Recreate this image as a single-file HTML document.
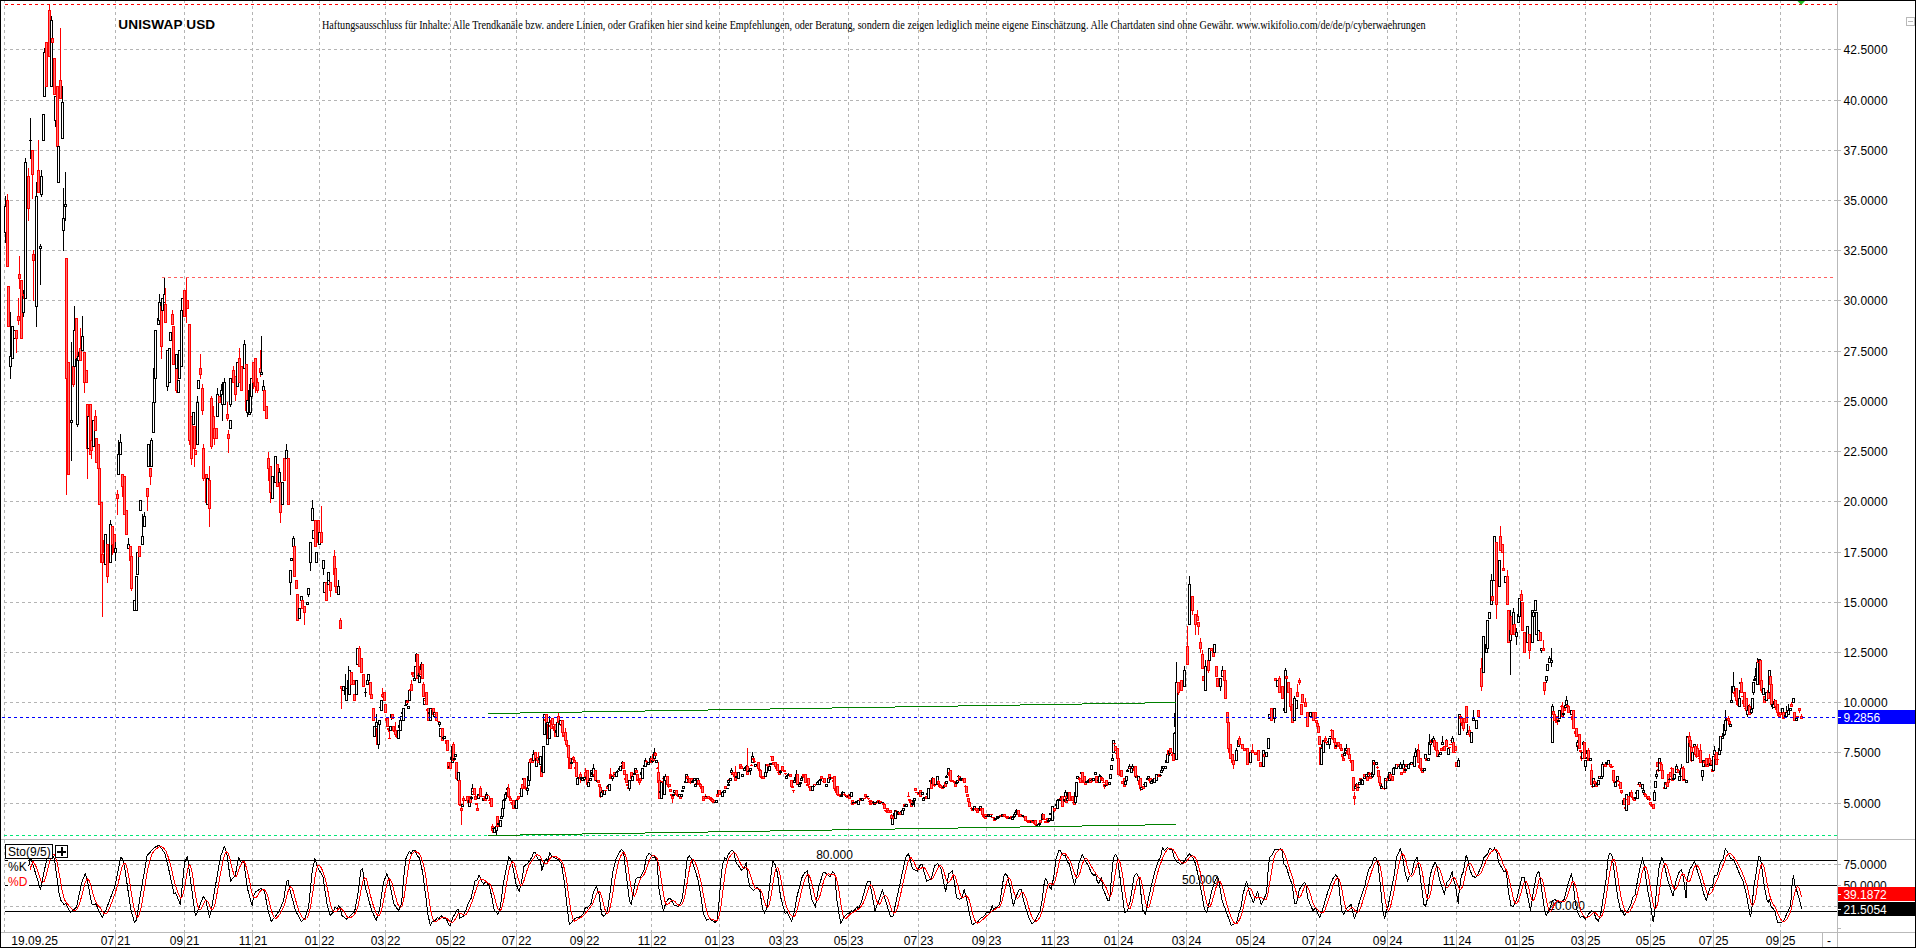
<!DOCTYPE html><html><head><meta charset="utf-8"><title>UNISWAP USD</title>
<style>html,body{margin:0;padding:0;background:#fff;}body{width:1916px;height:948px;overflow:hidden;position:relative;font-family:"Liberation Sans",sans-serif;}svg{position:absolute;left:0;top:0;}text{font-family:"Liberation Sans",sans-serif;font-size:12px;}.ser{font-family:"Liberation Serif",serif;}.u{fill:#fff;stroke:#000}.d{fill:#ff7070;stroke:#f00}</style></head><body>
<svg width="1916" height="948" viewBox="0 0 1916 948">
<rect x="0" y="0" width="1916" height="948" fill="#fff"/>
<g shape-rendering="crispEdges" fill="none">
<path d="M4.5 0V839" stroke="#b4b4b4" stroke-dasharray="3 3"/>
<path d="M4.5 840V932" stroke="#b4b4b4" stroke-dasharray="3 3" stroke-dashoffset="0"/>
<path d="M115.5 0V839" stroke="#b4b4b4" stroke-dasharray="3 3"/>
<path d="M115.5 840V932" stroke="#b4b4b4" stroke-dasharray="3 3" stroke-dashoffset="0"/>
<path d="M184.5 0V839" stroke="#b4b4b4" stroke-dasharray="3 3"/>
<path d="M184.5 840V932" stroke="#b4b4b4" stroke-dasharray="3 3" stroke-dashoffset="0"/>
<path d="M252.5 0V839" stroke="#b4b4b4" stroke-dasharray="3 3"/>
<path d="M252.5 840V932" stroke="#b4b4b4" stroke-dasharray="3 3" stroke-dashoffset="0"/>
<path d="M319.5 0V839" stroke="#b4b4b4" stroke-dasharray="3 3"/>
<path d="M319.5 840V932" stroke="#b4b4b4" stroke-dasharray="3 3" stroke-dashoffset="0"/>
<path d="M385.5 0V839" stroke="#b4b4b4" stroke-dasharray="3 3"/>
<path d="M385.5 840V932" stroke="#b4b4b4" stroke-dasharray="3 3" stroke-dashoffset="0"/>
<path d="M450.5 0V839" stroke="#b4b4b4" stroke-dasharray="3 3"/>
<path d="M450.5 840V932" stroke="#b4b4b4" stroke-dasharray="3 3" stroke-dashoffset="0"/>
<path d="M516.5 0V839" stroke="#b4b4b4" stroke-dasharray="3 3"/>
<path d="M516.5 840V932" stroke="#b4b4b4" stroke-dasharray="3 3" stroke-dashoffset="0"/>
<path d="M584.5 0V839" stroke="#b4b4b4" stroke-dasharray="3 3"/>
<path d="M584.5 840V932" stroke="#b4b4b4" stroke-dasharray="3 3" stroke-dashoffset="0"/>
<path d="M651.5 0V839" stroke="#b4b4b4" stroke-dasharray="3 3"/>
<path d="M651.5 840V932" stroke="#b4b4b4" stroke-dasharray="3 3" stroke-dashoffset="0"/>
<path d="M719.5 0V839" stroke="#b4b4b4" stroke-dasharray="3 3"/>
<path d="M719.5 840V932" stroke="#b4b4b4" stroke-dasharray="3 3" stroke-dashoffset="0"/>
<path d="M783.5 0V839" stroke="#b4b4b4" stroke-dasharray="3 3"/>
<path d="M783.5 840V932" stroke="#b4b4b4" stroke-dasharray="3 3" stroke-dashoffset="0"/>
<path d="M848.5 0V839" stroke="#b4b4b4" stroke-dasharray="3 3"/>
<path d="M848.5 840V932" stroke="#b4b4b4" stroke-dasharray="3 3" stroke-dashoffset="0"/>
<path d="M918.5 0V839" stroke="#b4b4b4" stroke-dasharray="3 3"/>
<path d="M918.5 840V932" stroke="#b4b4b4" stroke-dasharray="3 3" stroke-dashoffset="0"/>
<path d="M986.5 0V839" stroke="#b4b4b4" stroke-dasharray="3 3"/>
<path d="M986.5 840V932" stroke="#b4b4b4" stroke-dasharray="3 3" stroke-dashoffset="0"/>
<path d="M1054.5 0V839" stroke="#b4b4b4" stroke-dasharray="3 3"/>
<path d="M1054.5 840V932" stroke="#b4b4b4" stroke-dasharray="3 3" stroke-dashoffset="0"/>
<path d="M1118.5 0V839" stroke="#b4b4b4" stroke-dasharray="3 3"/>
<path d="M1118.5 840V932" stroke="#b4b4b4" stroke-dasharray="3 3" stroke-dashoffset="0"/>
<path d="M1186.5 0V839" stroke="#b4b4b4" stroke-dasharray="3 3"/>
<path d="M1186.5 840V932" stroke="#b4b4b4" stroke-dasharray="3 3" stroke-dashoffset="0"/>
<path d="M1250.5 0V839" stroke="#b4b4b4" stroke-dasharray="3 3"/>
<path d="M1250.5 840V932" stroke="#b4b4b4" stroke-dasharray="3 3" stroke-dashoffset="0"/>
<path d="M1316.5 0V839" stroke="#b4b4b4" stroke-dasharray="3 3"/>
<path d="M1316.5 840V932" stroke="#b4b4b4" stroke-dasharray="3 3" stroke-dashoffset="0"/>
<path d="M1387.5 0V839" stroke="#b4b4b4" stroke-dasharray="3 3"/>
<path d="M1387.5 840V932" stroke="#b4b4b4" stroke-dasharray="3 3" stroke-dashoffset="0"/>
<path d="M1456.5 0V839" stroke="#b4b4b4" stroke-dasharray="3 3"/>
<path d="M1456.5 840V932" stroke="#b4b4b4" stroke-dasharray="3 3" stroke-dashoffset="0"/>
<path d="M1519.5 0V839" stroke="#b4b4b4" stroke-dasharray="3 3"/>
<path d="M1519.5 840V932" stroke="#b4b4b4" stroke-dasharray="3 3" stroke-dashoffset="0"/>
<path d="M1585.5 0V839" stroke="#b4b4b4" stroke-dasharray="3 3"/>
<path d="M1585.5 840V932" stroke="#b4b4b4" stroke-dasharray="3 3" stroke-dashoffset="0"/>
<path d="M1650.5 0V839" stroke="#b4b4b4" stroke-dasharray="3 3"/>
<path d="M1650.5 840V932" stroke="#b4b4b4" stroke-dasharray="3 3" stroke-dashoffset="0"/>
<path d="M1713.5 0V839" stroke="#b4b4b4" stroke-dasharray="3 3"/>
<path d="M1713.5 840V932" stroke="#b4b4b4" stroke-dasharray="3 3" stroke-dashoffset="0"/>
<path d="M1780.5 0V839" stroke="#b4b4b4" stroke-dasharray="3 3"/>
<path d="M1780.5 840V932" stroke="#b4b4b4" stroke-dasharray="3 3" stroke-dashoffset="0"/>
<path d="M4 49.5H1837" stroke="#b4b4b4" stroke-dasharray="3 3"/>
<path d="M1837 49.5H1841" stroke="#b9b9b9"/>
<path d="M4 100.5H1837" stroke="#b4b4b4" stroke-dasharray="3 3"/>
<path d="M1837 100.5H1841" stroke="#b9b9b9"/>
<path d="M4 150.5H1837" stroke="#b4b4b4" stroke-dasharray="3 3"/>
<path d="M1837 150.5H1841" stroke="#b9b9b9"/>
<path d="M4 200.5H1837" stroke="#b4b4b4" stroke-dasharray="3 3"/>
<path d="M1837 200.5H1841" stroke="#b9b9b9"/>
<path d="M4 250.5H1837" stroke="#b4b4b4" stroke-dasharray="3 3"/>
<path d="M1837 250.5H1841" stroke="#b9b9b9"/>
<path d="M4 300.5H1837" stroke="#b4b4b4" stroke-dasharray="3 3"/>
<path d="M1837 300.5H1841" stroke="#b9b9b9"/>
<path d="M4 351.5H1837" stroke="#b4b4b4" stroke-dasharray="3 3"/>
<path d="M1837 351.5H1841" stroke="#b9b9b9"/>
<path d="M4 401.5H1837" stroke="#b4b4b4" stroke-dasharray="3 3"/>
<path d="M1837 401.5H1841" stroke="#b9b9b9"/>
<path d="M4 451.5H1837" stroke="#b4b4b4" stroke-dasharray="3 3"/>
<path d="M1837 451.5H1841" stroke="#b9b9b9"/>
<path d="M4 501.5H1837" stroke="#b4b4b4" stroke-dasharray="3 3"/>
<path d="M1837 501.5H1841" stroke="#b9b9b9"/>
<path d="M4 552.5H1837" stroke="#b4b4b4" stroke-dasharray="3 3"/>
<path d="M1837 552.5H1841" stroke="#b9b9b9"/>
<path d="M4 602.5H1837" stroke="#b4b4b4" stroke-dasharray="3 3"/>
<path d="M1837 602.5H1841" stroke="#b9b9b9"/>
<path d="M4 652.5H1837" stroke="#b4b4b4" stroke-dasharray="3 3"/>
<path d="M1837 652.5H1841" stroke="#b9b9b9"/>
<path d="M4 702.5H1837" stroke="#b4b4b4" stroke-dasharray="3 3"/>
<path d="M1837 702.5H1841" stroke="#b9b9b9"/>
<path d="M4 752.5H1837" stroke="#b4b4b4" stroke-dasharray="3 3"/>
<path d="M1837 752.5H1841" stroke="#b9b9b9"/>
<path d="M4 803.5H1837" stroke="#b4b4b4" stroke-dasharray="3 3"/>
<path d="M1837 803.5H1841" stroke="#b9b9b9"/>
<path d="M4 864.5H1837" stroke="#b4b4b4" stroke-dasharray="3 3"/>
<path d="M1837 864.5H1841" stroke="#b9b9b9"/>
<path d="M4 906.5H1837" stroke="#b4b4b4" stroke-dasharray="3 3"/>
<path d="M1837 906.5H1841" stroke="#b9b9b9"/>
<path d="M1837 885.5H1841M1837 928.5H1841" stroke="#b9b9b9"/>
<path d="M5 4.5H1837" stroke="#ff0000" stroke-dasharray="3 3"/>
<path d="M162 277.5H1833" stroke="#ff6060" stroke-dasharray="3 3"/>
<path d="M4 835.5H1837" stroke="#00e676" stroke-dasharray="3 3"/>
</g>
<g shape-rendering="crispEdges" class="cd">
<path class="u" d="M5.5 196V206M5.5 233V243M4.5 206.5H6.5V232.5H4.5Z"/>
<path class="d" d="M7.5 194V200M6.5 200.5H8.5V266.5H6.5Z"/>
<path class="d" d="M7.5 286.5H9.5V326.5H7.5Z"/>
<path class="u" d="M10.5 312V356M10.5 367V379M9.5 356.5H11.5V366.5H9.5Z"/>
<path class="u" d="M11.5 326.5H13.5V358.5H11.5Z"/>
<path class="u" d="M13.5 330.5H15.5V338.5H13.5Z"/>
<path class="d" d="M16.5 339V353M15.5 330.5H17.5V338.5H15.5Z"/>
<path class="d" d="M18.5 298V316M18.5 321V325M17.5 316.5H19.5V320.5H17.5Z"/>
<path class="d" d="M19.5 256V274M19.5 279V289M18.5 274.5H20.5V278.5H18.5Z"/>
<path class="d" d="M20.5 280.5H22.5V338.5H20.5Z"/>
<path class="u" d="M23.5 290V296M23.5 313V317M22.5 296.5H24.5V312.5H22.5Z"/>
<path class="d" d="M23.5 294.5H25.5V298.5H23.5Z"/>
<path class="u" d="M25.5 158V162M24.5 162.5H26.5V298.5H24.5Z"/>
<path class="d" d="M28.5 168V176M28.5 209V221M27.5 176.5H29.5V208.5H27.5Z"/>
<path class="u" d="M30.5 118V140M30.5 141V159M29 140.5H32"/>
<path class="d" d="M32.5 175V199M31.5 150.5H33.5V174.5H31.5Z"/>
<path class="d" d="M33.5 250V254M33.5 261V301M32.5 254.5H34.5V260.5H32.5Z"/>
<path class="u" d="M36.5 182V196M36.5 307V327M35.5 196.5H37.5V306.5H35.5Z"/>
<path class="d" d="M38.5 140V170M37.5 170.5H39.5V192.5H37.5Z"/>
<path class="u" d="M40.5 244V246M40.5 249V285M39.5 246.5H41.5V248.5H39.5Z"/>
<path class="u" d="M41.5 170V176M41.5 195V197M40.5 176.5H42.5V194.5H40.5Z"/>
<path class="u" d="M42.5 114.5H44.5V140.5H42.5Z"/>
<path class="u" d="M44.5 48V52M43.5 52.5H45.5V96.5H43.5Z"/>
<path class="d" d="M45.5 42.5H47.5V86.5H45.5Z"/>
<path class="d" d="M49.5 4V10M48.5 10.5H50.5V56.5H48.5Z"/>
<path class="u" d="M51.5 16V20M50.5 20.5H52.5V86.5H50.5Z"/>
<path class="d" d="M51.5 38.5H53.5V42.5H51.5Z"/>
<path class="d" d="M53.5 58.5H55.5V94.5H53.5Z"/>
<path class="u" d="M55.5 121V127M54.5 96.5H56.5V120.5H54.5Z"/>
<path class="d" d="M56.5 86.5H58.5V146.5H56.5Z"/>
<path class="u" d="M57.5 146.5H59.5V182.5H57.5Z"/>
<path class="d" d="M60.5 28V80M59.5 80.5H61.5V98.5H59.5Z"/>
<path class="u" d="M62.5 86V102M61.5 102.5H63.5V138.5H61.5Z"/>
<path class="u" d="M63.5 188V218M63.5 231V251M62.5 218.5H64.5V230.5H62.5Z"/>
<path class="u" d="M65.5 172V204M65.5 207V221M64.5 204.5H66.5V206.5H64.5Z"/>
<path class="d" d="M66.5 379V495M65.5 258.5H67.5V378.5H65.5Z"/>
<path class="d" d="M67.5 362.5H69.5V474.5H67.5Z"/>
<path class="u" d="M71.5 342V420M71.5 423V461M70.5 420.5H72.5V422.5H70.5Z"/>
<path class="d" d="M73.5 385V387M72.5 366.5H74.5V384.5H72.5Z"/>
<path class="u" d="M74.5 306V330M73.5 330.5H75.5V366.5H73.5Z"/>
<path class="d" d="M75.5 318.5H77.5V358.5H75.5Z"/>
<path class="u" d="M77.5 425V427M76.5 358.5H78.5V424.5H76.5Z"/>
<path class="u" d="M78.5 352V356M78.5 361V377M77.5 356.5H79.5V360.5H77.5Z"/>
<path class="d" d="M80.5 328V348M79.5 348.5H81.5V360.5H79.5Z"/>
<path class="u" d="M82.5 316V336M81.5 336.5H83.5V350.5H81.5Z"/>
<path class="d" d="M84.5 383V393M83.5 352.5H85.5V382.5H83.5Z"/>
<path class="d" d="M85.5 370.5H87.5V382.5H85.5Z"/>
<path class="d" d="M87.5 449V479M86.5 404.5H88.5V448.5H86.5Z"/>
<path class="u" d="M87.5 416.5H89.5V448.5H87.5Z"/>
<path class="d" d="M89.5 404.5H91.5V454.5H89.5Z"/>
<path class="d" d="M91.5 451V459M90.5 440.5H92.5V450.5H90.5Z"/>
<path class="u" d="M92.5 420.5H94.5V446.5H92.5Z"/>
<path class="d" d="M95.5 410V416M94.5 416.5H96.5V430.5H94.5Z"/>
<path class="d" d="M95.5 438.5H97.5V462.5H95.5Z"/>
<path class="d" d="M97.5 444.5H99.5V468.5H97.5Z"/>
<path class="d" d="M98.5 468.5H100.5V504.5H98.5Z"/>
<path class="d" d="M100.5 502.5H102.5V562.5H100.5Z"/>
<path class="d" d="M102.5 563V617M101.5 554.5H103.5V562.5H101.5Z"/>
<path class="d" d="M103.5 540.5H105.5V552.5H103.5Z"/>
<path class="u" d="M104.5 534.5H106.5V564.5H104.5Z"/>
<path class="d" d="M107.5 577V583M106.5 544.5H108.5V576.5H106.5Z"/>
<path class="u" d="M110.5 520V524M109.5 524.5H111.5V562.5H109.5Z"/>
<path class="d" d="M112.5 545V555M111.5 526.5H113.5V544.5H111.5Z"/>
<path class="d" d="M113.5 534.5H115.5V552.5H113.5Z"/>
<path class="u" d="M115.5 542V548M115.5 553V561M114.5 548.5H116.5V552.5H114.5Z"/>
<path class="d" d="M117.5 490V494M117.5 499V515M116.5 494.5H118.5V498.5H116.5Z"/>
<path class="u" d="M118.5 440V454M117.5 454.5H119.5V474.5H117.5Z"/>
<path class="u" d="M120.5 434V442M119.5 442.5H121.5V454.5H119.5Z"/>
<path class="d" d="M122.5 487V497M121.5 474.5H123.5V486.5H121.5Z"/>
<path class="d" d="M123.5 476.5H125.5V514.5H123.5Z"/>
<path class="d" d="M125.5 510.5H127.5V534.5H125.5Z"/>
<path class="u" d="M128.5 538V544M127.5 544.5H129.5V548.5H127.5Z"/>
<path class="d" d="M129.5 546.5H131.5V560.5H129.5Z"/>
<path class="d" d="M131.5 589V591M130.5 556.5H132.5V588.5H130.5Z"/>
<path class="u" d="M133.5 600.5H135.5V610.5H133.5Z"/>
<path class="u" d="M135.5 576.5H137.5V610.5H135.5Z"/>
<path class="u" d="M136.5 552.5H138.5V574.5H136.5Z"/>
<path class="d" d="M138.5 546.5H140.5V556.5H138.5Z"/>
<path class="u" d="M139.5 500.5H141.5V510.5H139.5Z"/>
<path class="u" d="M142.5 514V536M141.5 536.5H143.5V544.5H141.5Z"/>
<path class="u" d="M144.5 512V516M143.5 516.5H145.5V526.5H143.5Z"/>
<path class="d" d="M147.5 497V511M146.5 488.5H148.5V496.5H146.5Z"/>
<path class="u" d="M147.5 444.5H149.5V466.5H147.5Z"/>
<path class="d" d="M150.5 477V485M149.5 468.5H151.5V476.5H149.5Z"/>
<path class="u" d="M151.5 438V440M150.5 440.5H152.5V466.5H150.5Z"/>
<path class="u" d="M152.5 402.5H154.5V432.5H152.5Z"/>
<path class="u" d="M153.5 368.5H155.5V402.5H153.5Z"/>
<path class="u" d="M154.5 330.5H156.5V378.5H154.5Z"/>
<path class="u" d="M157.5 318.5H159.5V324.5H157.5Z"/>
<path class="u" d="M159.5 294V302M158.5 302.5H160.5V320.5H158.5Z"/>
<path class="d" d="M161.5 347V359M160.5 306.5H162.5V346.5H160.5Z"/>
<path class="u" d="M161.5 298.5H163.5V310.5H161.5Z"/>
<path class="u" d="M164.5 278V294M163.5 294.5H165.5V302.5H163.5Z"/>
<path class="d" d="M165.5 288V304M164.5 304.5H166.5V322.5H164.5Z"/>
<path class="u" d="M167.5 387V391M166.5 350.5H168.5V386.5H166.5Z"/>
<path class="u" d="M168.5 348.5H170.5V382.5H168.5Z"/>
<path class="u" d="M169.5 332.5H171.5V340.5H169.5Z"/>
<path class="d" d="M172.5 310V314M171.5 314.5H173.5V324.5H171.5Z"/>
<path class="d" d="M172.5 326.5H174.5V364.5H172.5Z"/>
<path class="d" d="M176.5 391V393M175.5 368.5H177.5V390.5H175.5Z"/>
<path class="u" d="M175.5 354.5H177.5V368.5H175.5Z"/>
<path class="u" d="M177.5 380.5H179.5V392.5H177.5Z"/>
<path class="u" d="M178.5 350.5H180.5V378.5H178.5Z"/>
<path class="u" d="M180.5 310.5H182.5V366.5H180.5Z"/>
<path class="u" d="M181.5 298.5H183.5V310.5H181.5Z"/>
<path class="d" d="M183.5 290.5H185.5V316.5H183.5Z"/>
<path class="d" d="M186.5 278V302M186.5 309V323M185.5 302.5H187.5V308.5H185.5Z"/>
<path class="d" d="M186.5 300.5H188.5V308.5H186.5Z"/>
<path class="d" d="M189.5 441V445M188.5 324.5H190.5V440.5H188.5Z"/>
<path class="d" d="M191.5 459V465M190.5 416.5H192.5V458.5H190.5Z"/>
<path class="u" d="M192.5 412.5H194.5V424.5H192.5Z"/>
<path class="d" d="M194.5 449V467M193.5 426.5H195.5V448.5H193.5Z"/>
<path class="d" d="M194.5 450.5H196.5V454.5H194.5Z"/>
<path class="u" d="M197.5 396V402M196.5 402.5H198.5V444.5H196.5Z"/>
<path class="u" d="M197.5 380.5H199.5V388.5H197.5Z"/>
<path class="d" d="M200.5 354V368M200.5 375V379M199.5 368.5H201.5V374.5H199.5Z"/>
<path class="d" d="M202.5 384V388M202.5 411V415M201.5 388.5H203.5V410.5H201.5Z"/>
<path class="d" d="M203.5 444V448M203.5 479V481M202.5 448.5H204.5V478.5H202.5Z"/>
<path class="d" d="M205.5 474.5H207.5V502.5H205.5Z"/>
<path class="u" d="M206.5 478.5H208.5V504.5H206.5Z"/>
<path class="d" d="M209.5 466V480M209.5 509V527M208.5 480.5H210.5V508.5H208.5Z"/>
<path class="d" d="M211.5 396V398M211.5 447V449M210.5 398.5H212.5V446.5H210.5Z"/>
<path class="d" d="M213.5 406V416M212.5 416.5H214.5V438.5H212.5Z"/>
<path class="d" d="M214.5 424V428M214.5 439V445M213.5 428.5H215.5V438.5H213.5Z"/>
<path class="d" d="M215.5 428.5H217.5V438.5H215.5Z"/>
<path class="u" d="M217.5 388V394M216.5 394.5H218.5V416.5H216.5Z"/>
<path class="d" d="M218.5 396.5H220.5V402.5H218.5Z"/>
<path class="u" d="M221.5 384V390M220.5 390.5H222.5V396.5H220.5Z"/>
<path class="u" d="M222.5 382V394M222.5 405V421M221.5 394.5H223.5V404.5H221.5Z"/>
<path class="u" d="M224.5 378V382M223.5 382.5H225.5V404.5H223.5Z"/>
<path class="d" d="M227.5 402V414M227.5 419V421M226.5 414.5H228.5V418.5H226.5Z"/>
<path class="d" d="M228.5 430V434M228.5 439V453M227.5 434.5H229.5V438.5H227.5Z"/>
<path class="u" d="M229.5 420.5H231.5V428.5H229.5Z"/>
<path class="u" d="M230.5 405V407M229.5 378.5H231.5V404.5H229.5Z"/>
<path class="d" d="M233.5 366V370M232.5 370.5H234.5V382.5H232.5Z"/>
<path class="d" d="M235.5 395V401M234.5 376.5H236.5V394.5H234.5Z"/>
<path class="u" d="M236.5 362.5H238.5V386.5H236.5Z"/>
<path class="d" d="M239.5 348V358M238.5 358.5H240.5V382.5H238.5Z"/>
<path class="d" d="M240.5 366.5H242.5V390.5H240.5Z"/>
<path class="u" d="M244.5 340V344M243.5 344.5H245.5V368.5H243.5Z"/>
<path class="d" d="M245.5 364.5H247.5V410.5H245.5Z"/>
<path class="u" d="M247.5 413V417M246.5 400.5H248.5V412.5H246.5Z"/>
<path class="u" d="M248.5 390.5H250.5V414.5H248.5Z"/>
<path class="u" d="M249.5 384.5H251.5V412.5H249.5Z"/>
<path class="u" d="M250.5 378.5H252.5V396.5H250.5Z"/>
<path class="d" d="M253.5 383V389M252.5 362.5H254.5V382.5H252.5Z"/>
<path class="d" d="M255.5 387V393M254.5 358.5H256.5V386.5H254.5Z"/>
<path class="d" d="M257.5 378V382M257.5 391V393M256.5 382.5H258.5V390.5H256.5Z"/>
<path class="d" d="M260.5 350V368M260.5 373V377M259.5 368.5H261.5V372.5H259.5Z"/>
<path class="u" d="M261.5 336V372M260.5 372.5H262.5V374.5H260.5Z"/>
<path class="u" d="M263.5 380V386M262.5 386.5H264.5V390.5H262.5Z"/>
<path class="d" d="M263.5 390.5H265.5V410.5H263.5Z"/>
<path class="d" d="M265.5 406.5H267.5V418.5H265.5Z"/>
<path class="d" d="M268.5 452V458M268.5 469V481M267.5 458.5H269.5V468.5H267.5Z"/>
<path class="d" d="M270.5 493V503M269.5 466.5H271.5V492.5H269.5Z"/>
<path class="u" d="M271.5 476.5H273.5V498.5H271.5Z"/>
<path class="u" d="M274.5 456.5H276.5V482.5H274.5Z"/>
<path class="d" d="M276.5 464.5H278.5V486.5H276.5Z"/>
<path class="u" d="M279.5 468V472M278.5 472.5H280.5V482.5H278.5Z"/>
<path class="d" d="M280.5 513V523M279.5 482.5H281.5V512.5H279.5Z"/>
<path class="u" d="M281.5 482.5H283.5V504.5H281.5Z"/>
<path class="d" d="M283.5 458.5H285.5V480.5H283.5Z"/>
<path class="u" d="M286.5 444V450M285.5 450.5H287.5V458.5H285.5Z"/>
<path class="d" d="M287.5 458.5H289.5V504.5H287.5Z"/>
<path class="u" d="M290.5 583V595M289.5 570.5H291.5V582.5H289.5Z"/>
<path class="u" d="M290.5 558.5H292.5V560.5H290.5Z"/>
<path class="u" d="M293.5 536V538M292.5 538.5H294.5V546.5H292.5Z"/>
<path class="d" d="M293.5 546.5H295.5V576.5H293.5Z"/>
<path class="d" d="M295.5 580.5H297.5V588.5H295.5Z"/>
<path class="d" d="M296.5 594.5H298.5V620.5H296.5Z"/>
<path class="u" d="M298.5 608.5H300.5V618.5H298.5Z"/>
<path class="u" d="M300.5 596.5H302.5V600.5H300.5Z"/>
<path class="d" d="M301.5 600.5H303.5V608.5H301.5Z"/>
<path class="d" d="M304.5 613V625M303.5 606.5H305.5V612.5H303.5Z"/>
<path class="u" d="M306.5 602.5H308.5V604.5H306.5Z"/>
<path class="u" d="M308.5 595V597M307.5 588.5H309.5V594.5H307.5Z"/>
<path class="u" d="M310.5 563V571M309.5 542.5H311.5V562.5H309.5Z"/>
<path class="u" d="M312.5 500V508M311.5 508.5H313.5V520.5H311.5Z"/>
<path class="u" d="M312.5 530.5H314.5V538.5H312.5Z"/>
<path class="d" d="M314.5 520.5H316.5V546.5H314.5Z"/>
<path class="u" d="M315.5 552.5H317.5V562.5H315.5Z"/>
<path class="d" d="M317.5 520.5H319.5V542.5H317.5Z"/>
<path class="u" d="M318.5 532.5H320.5V544.5H318.5Z"/>
<path class="d" d="M321.5 506V532M320.5 532.5H322.5V542.5H320.5Z"/>
<path class="u" d="M323.5 569V575M322.5 560.5H324.5V568.5H322.5Z"/>
<path class="u" d="M323.5 582.5H325.5V592.5H323.5Z"/>
<path class="d" d="M325.5 582.5H327.5V600.5H325.5Z"/>
<path class="u" d="M327.5 576.5H329.5V584.5H327.5Z"/>
<path class="u" d="M327.5 572.5H329.5V580.5H327.5Z"/>
<path class="d" d="M330.5 591V597M329.5 582.5H331.5V590.5H329.5Z"/>
<path class="d" d="M334.5 550V556M333.5 556.5H335.5V574.5H333.5Z"/>
<path class="d" d="M334.5 568.5H336.5V586.5H334.5Z"/>
<path class="d" d="M335.5 586.5H337.5V592.5H335.5Z"/>
<path class="u" d="M338.5 580V586M337.5 586.5H339.5V594.5H337.5Z"/>
<path class="d" d="M340.5 618V620M339.5 620.5H341.5V628.5H339.5Z"/>
<path class="d" d="M341.5 689V709M340.5 686.5H342.5V688.5H340.5Z"/>
<path class="u" d="M342.5 686.5H344.5V690.5H342.5Z"/>
<path class="u" d="M345.5 674V690M344.5 690.5H346.5V694.5H344.5Z"/>
<path class="u" d="M345.5 688.5H347.5V700.5H345.5Z"/>
<path class="u" d="M348.5 666V680M347.5 680.5H349.5V694.5H347.5Z"/>
<path class="u" d="M348.5 670.5H350.5V694.5H348.5Z"/>
<path class="d" d="M350.5 672.5H352.5V684.5H350.5Z"/>
<path class="d" d="M352.5 680.5H354.5V684.5H352.5Z"/>
<path class="d" d="M353.5 694.5H355.5V700.5H353.5Z"/>
<path class="u" d="M355.5 680.5H357.5V694.5H355.5Z"/>
<path class="u" d="M356.5 648.5H358.5V664.5H356.5Z"/>
<path class="d" d="M359.5 646V648M358.5 648.5H360.5V666.5H358.5Z"/>
<path class="d" d="M360.5 658.5H362.5V672.5H360.5Z"/>
<path class="d" d="M362.5 674.5H364.5V686.5H362.5Z"/>
<path class="u" d="M365.5 688V692M365.5 693V697M364 692.5H367"/>
<path class="u" d="M366.5 680.5H368.5V684.5H366.5Z"/>
<path class="u" d="M367.5 674.5H369.5V680.5H367.5Z"/>
<path class="d" d="M369.5 682.5H371.5V694.5H369.5Z"/>
<path class="d" d="M370.5 694.5H372.5V698.5H370.5Z"/>
<path class="d" d="M372.5 708.5H374.5V720.5H372.5Z"/>
<path class="d" d="M372.5 708.5H374.5V720.5H372.5Z"/>
<path class="u" d="M373.5 726.5H375.5V736.5H373.5Z"/>
<path class="u" d="M375.5 727V728M374 726.5H377"/>
<path class="u" d="M376.5 714V722M375.5 722.5H377.5V726.5H375.5Z"/>
<path class="d" d="M377.5 727V728M376.5 728.5H378.5V744.5H376.5Z"/>
<path class="u" d="M378.5 745V749M377.5 724.5H379.5V744.5H377.5Z"/>
<path class="u" d="M378.5 720.5H380.5V724.5H378.5Z"/>
<path class="u" d="M380.5 705V707M380.5 708V709M379 707.5H382"/>
<path class="u" d="M380.5 700.5H382.5V710.5H380.5Z"/>
<path class="d" d="M382.5 688V694M381.5 694.5H383.5V696.5H381.5Z"/>
<path class="d" d="M382 697.5H385"/>
<path class="d" d="M383.5 692.5H385.5V700.5H383.5Z"/>
<path class="d" d="M384.5 704.5H386.5V712.5H384.5Z"/>
<path class="d" d="M385.5 718.5H387.5V720.5H385.5Z"/>
<path class="d" d="M386.5 718.5H388.5V726.5H386.5Z"/>
<path class="d" d="M388.5 730V732M387.5 728.5H389.5V729.5H387.5Z"/>
<path class="d" d="M389.5 728V738M388 738.5H391"/>
<path class="u" d="M389.5 726.5H391.5V730.5H389.5Z"/>
<path class="u" d="M391.5 718V720M390.5 714.5H392.5V717.5H390.5Z"/>
<path class="d" d="M391.5 714.5H393.5V718.5H391.5Z"/>
<path class="d" d="M392.5 726.5H394.5V730.5H392.5Z"/>
<path class="d" d="M394.5 730V731M394.5 732V734M393 731.5H396"/>
<path class="d" d="M395.5 722V730M394.5 730.5H396.5V734.5H394.5Z"/>
<path class="d" d="M396.5 734V735M396.5 737V738M395.5 735.5H397.5V736.5H395.5Z"/>
<path class="d" d="M396.5 734.5H398.5V736.5H396.5Z"/>
<path class="u" d="M397.5 730.5H399.5V738.5H397.5Z"/>
<path class="u" d="M398.5 725.5H400.5V727.5H398.5Z"/>
<path class="u" d="M399.5 720.5H401.5V730.5H399.5Z"/>
<path class="u" d="M400.5 716.5H402.5V720.5H400.5Z"/>
<path class="u" d="M402.5 711V712M401.5 712.5H403.5V713.5H401.5Z"/>
<path class="u" d="M402.5 708.5H404.5V720.5H402.5Z"/>
<path class="u" d="M405.5 703V705M404 705.5H407"/>
<path class="u" d="M405.5 700.5H407.5V704.5H405.5Z"/>
<path class="d" d="M407.5 700V701M406.5 701.5H408.5V702.5H406.5Z"/>
<path class="u" d="M407.5 706.5H409.5V708.5H407.5Z"/>
<path class="u" d="M408.5 690.5H410.5V700.5H408.5Z"/>
<path class="d" d="M410.5 688V689M409.5 689.5H411.5V690.5H409.5Z"/>
<path class="d" d="M411.5 680V684M410.5 684.5H412.5V690.5H410.5Z"/>
<path class="d" d="M411.5 672.5H413.5V674.5H411.5Z"/>
<path class="d" d="M412.5 673.5H414.5V676.5H412.5Z"/>
<path class="u" d="M414.5 668V678M413.5 678.5H415.5V680.5H413.5Z"/>
<path class="u" d="M414.5 666.5H416.5V678.5H414.5Z"/>
<path class="u" d="M416.5 653V654M416.5 662V665M415.5 654.5H417.5V661.5H415.5Z"/>
<path class="d" d="M416.5 654.5H418.5V678.5H416.5Z"/>
<path class="u" d="M418.5 673V675M417 675.5H420"/>
<path class="u" d="M418.5 676.5H420.5V682.5H418.5Z"/>
<path class="d" d="M419.5 666.5H421.5V674.5H419.5Z"/>
<path class="u" d="M421.5 662V664M420.5 664.5H422.5V669.5H420.5Z"/>
<path class="d" d="M421.5 664.5H423.5V678.5H421.5Z"/>
<path class="d" d="M423.5 682V684M422.5 684.5H424.5V696.5H422.5Z"/>
<path class="u" d="M423.5 698.5H425.5V704.5H423.5Z"/>
<path class="d" d="M425.5 699V700M424 700.5H427"/>
<path class="d" d="M425.5 692.5H427.5V704.5H425.5Z"/>
<path class="d" d="M426.5 709.5H428.5V710.5H426.5Z"/>
<path class="d" d="M427.5 708.5H429.5V720.5H427.5Z"/>
<path class="u" d="M429.5 714V716M428.5 712.5H430.5V713.5H428.5Z"/>
<path class="u" d="M429.5 708.5H431.5V720.5H429.5Z"/>
<path class="d" d="M432.5 708V709M432.5 710V711M431 709.5H434"/>
<path class="d" d="M432.5 708.5H434.5V714.5H432.5Z"/>
<path class="u" d="M433.5 712.5H435.5V716.5H433.5Z"/>
<path class="d" d="M434 714.5H437"/>
<path class="d" d="M435.5 712.5H437.5V720.5H435.5Z"/>
<path class="d" d="M438.5 722V724M437 721.5H440"/>
<path class="u" d="M439.5 725V727M438.5 722.5H440.5V724.5H438.5Z"/>
<path class="u" d="M439.5 728.5H441.5V736.5H439.5Z"/>
<path class="d" d="M441.5 728.5H443.5V740.5H441.5Z"/>
<path class="u" d="M443.5 739V740M442.5 737.5H444.5V738.5H442.5Z"/>
<path class="u" d="M443.5 736.5H445.5V738.5H443.5Z"/>
<path class="d" d="M445.5 740.5H447.5V743.5H445.5Z"/>
<path class="d" d="M446.5 740.5H448.5V750.5H446.5Z"/>
<path class="d" d="M447.5 762.5H449.5V768.5H447.5Z"/>
<path class="u" d="M449.5 768V769M448.5 766.5H450.5V767.5H448.5Z"/>
<path class="d" d="M449.5 762.5H451.5V768.5H449.5Z"/>
<path class="u" d="M451.5 760V761M450.5 757.5H452.5V759.5H450.5Z"/>
<path class="u" d="M451.5 746.5H453.5V762.5H451.5Z"/>
<path class="d" d="M453.5 742V744M452.5 744.5H454.5V760.5H452.5Z"/>
<path class="u" d="M453.5 758.5H455.5V759.5H453.5Z"/>
<path class="u" d="M454.5 754.5H456.5V756.5H454.5Z"/>
<path class="d" d="M455.5 762.5H457.5V778.5H455.5Z"/>
<path class="d" d="M456.5 778.5H458.5V779.5H456.5Z"/>
<path class="u" d="M457.5 772.5H459.5V780.5H457.5Z"/>
<path class="d" d="M458.5 780.5H460.5V804.5H458.5Z"/>
<path class="d" d="M460.5 804V805M459 805.5H462"/>
<path class="d" d="M461.5 804V808M461.5 811V825M460.5 808.5H462.5V810.5H460.5Z"/>
<path class="u" d="M461.5 804.5H463.5V806.5H461.5Z"/>
<path class="d" d="M463.5 796V798M463.5 801V805M462.5 798.5H464.5V800.5H462.5Z"/>
<path class="d" d="M464 800.5H467"/>
<path class="u" d="M465 800.5H468"/>
<path class="d" d="M466.5 796.5H468.5V800.5H466.5Z"/>
<path class="d" d="M468.5 803V804M467.5 801.5H469.5V802.5H467.5Z"/>
<path class="u" d="M468.5 800.5H470.5V806.5H468.5Z"/>
<path class="d" d="M469.5 796.5H471.5V802.5H469.5Z"/>
<path class="u" d="M471.5 796V797M471.5 799V800M470.5 797.5H472.5V798.5H470.5Z"/>
<path class="u" d="M472.5 784V788M471.5 788.5H473.5V794.5H471.5Z"/>
<path class="d" d="M472 791.5H475"/>
<path class="d" d="M473.5 788.5H475.5V794.5H473.5Z"/>
<path class="d" d="M475.5 795V796M474.5 796.5H476.5V799.5H474.5Z"/>
<path class="d" d="M475.5 803.5H477.5V804.5H475.5Z"/>
<path class="d" d="M477.5 804V808M476.5 808.5H478.5V810.5H476.5Z"/>
<path class="u" d="M477.5 794.5H479.5V798.5H477.5Z"/>
<path class="d" d="M479.5 794V795M478 795.5H481"/>
<path class="d" d="M480.5 786V788M479.5 788.5H481.5V796.5H479.5Z"/>
<path class="d" d="M481 796.5H484"/>
<path class="u" d="M482.5 798.5H484.5V800.5H482.5Z"/>
<path class="d" d="M483.5 798.5H485.5V799.5H483.5Z"/>
<path class="d" d="M484.5 796.5H486.5V800.5H484.5Z"/>
<path class="u" d="M486.5 792V794M485.5 794.5H487.5V798.5H485.5Z"/>
<path class="d" d="M486 795.5H489"/>
<path class="d" d="M489.5 796V800M488 800.5H491"/>
<path class="d" d="M490.5 801V802M489.5 802.5H491.5V803.5H489.5Z"/>
<path class="d" d="M490.5 798.5H492.5V806.5H490.5Z"/>
<path class="d" d="M492.5 824V826M492.5 831V833M491.5 826.5H493.5V830.5H491.5Z"/>
<path class="u" d="M492 828.5H495"/>
<path class="u" d="M493.5 828.5H495.5V832.5H493.5Z"/>
<path class="u" d="M495.5 828V829M494 827.5H497"/>
<path class="u" d="M496.5 818V826M496.5 831V835M495.5 826.5H497.5V830.5H495.5Z"/>
<path class="d" d="M496.5 816.5H498.5V826.5H496.5Z"/>
<path class="u" d="M497.5 823.5H499.5V824.5H497.5Z"/>
<path class="u" d="M499.5 820.5H501.5V826.5H499.5Z"/>
<path class="u" d="M501.5 815V816M500.5 816.5H502.5V818.5H500.5Z"/>
<path class="u" d="M501.5 808.5H503.5V816.5H501.5Z"/>
<path class="u" d="M502.5 800.5H504.5V808.5H502.5Z"/>
<path class="u" d="M504.5 798V799M503.5 799.5H505.5V800.5H503.5Z"/>
<path class="u" d="M504.5 794.5H506.5V798.5H504.5Z"/>
<path class="u" d="M505.5 792.5H507.5V793.5H505.5Z"/>
<path class="u" d="M507.5 787V788M507.5 790V791M506.5 788.5H508.5V789.5H506.5Z"/>
<path class="d" d="M508.5 784V788M507.5 788.5H509.5V796.5H507.5Z"/>
<path class="d" d="M508.5 796.5H510.5V797.5H508.5Z"/>
<path class="d" d="M509.5 798.5H511.5V800.5H509.5Z"/>
<path class="d" d="M511.5 803V804M510 802.5H513"/>
<path class="d" d="M512.5 803V804M511 804.5H514"/>
<path class="d" d="M512.5 800.5H514.5V808.5H512.5Z"/>
<path class="u" d="M514.5 805.5H516.5V807.5H514.5Z"/>
<path class="u" d="M515.5 800.5H517.5V808.5H515.5Z"/>
<path class="d" d="M517.5 798V799M516 799.5H519"/>
<path class="d" d="M517.5 796.5H519.5V798.5H517.5Z"/>
<path class="d" d="M520.5 792V793M519 793.5H522"/>
<path class="u" d="M520.5 788.5H522.5V796.5H520.5Z"/>
<path class="d" d="M521.5 784.5H523.5V788.5H521.5Z"/>
<path class="u" d="M522.5 778.5H524.5V779.5H522.5Z"/>
<path class="d" d="M523.5 778.5H525.5V786.5H523.5Z"/>
<path class="d" d="M525.5 786V787M525.5 789V790M524.5 787.5H526.5V788.5H524.5Z"/>
<path class="u" d="M527.5 786V788M527.5 791V795M526.5 788.5H528.5V790.5H526.5Z"/>
<path class="u" d="M528.5 775V776M527.5 776.5H529.5V785.5H527.5Z"/>
<path class="u" d="M528.5 762.5H530.5V780.5H528.5Z"/>
<path class="d" d="M530.5 758V759M529.5 759.5H531.5V762.5H529.5Z"/>
<path class="d" d="M531.5 758.5H533.5V762.5H531.5Z"/>
<path class="u" d="M533.5 750V754M532.5 754.5H534.5V760.5H532.5Z"/>
<path class="d" d="M534.5 752.5H536.5V760.5H534.5Z"/>
<path class="u" d="M535.5 758.5H537.5V766.5H535.5Z"/>
<path class="d" d="M536.5 757.5H538.5V760.5H536.5Z"/>
<path class="d" d="M538.5 752V760M537.5 760.5H539.5V762.5H537.5Z"/>
<path class="u" d="M538.5 758.5H540.5V759.5H538.5Z"/>
<path class="u" d="M539.5 756.5H541.5V764.5H539.5Z"/>
<path class="d" d="M540.5 766.5H542.5V776.5H540.5Z"/>
<path class="u" d="M541.5 758.5H543.5V771.5H541.5Z"/>
<path class="u" d="M542.5 746.5H544.5V772.5H542.5Z"/>
<path class="u" d="M543.5 714.5H545.5V734.5H543.5Z"/>
<path class="d" d="M545.5 721V722M544.5 719.5H546.5V720.5H544.5Z"/>
<path class="d" d="M545.5 714.5H547.5V722.5H545.5Z"/>
<path class="u" d="M546.5 722.5H548.5V744.5H546.5Z"/>
<path class="d" d="M548.5 723V724M547.5 724.5H549.5V738.5H547.5Z"/>
<path class="u" d="M549.5 716V722M548.5 722.5H550.5V738.5H548.5Z"/>
<path class="d" d="M549.5 725.5H551.5V726.5H549.5Z"/>
<path class="d" d="M550.5 720.5H552.5V728.5H550.5Z"/>
<path class="d" d="M551.5 718.5H553.5V724.5H551.5Z"/>
<path class="d" d="M554.5 725V726M554.5 731V732M553.5 726.5H555.5V730.5H553.5Z"/>
<path class="d" d="M554.5 724.5H556.5V736.5H554.5Z"/>
<path class="u" d="M556.5 729V730M555.5 730.5H557.5V732.5H555.5Z"/>
<path class="u" d="M556.5 722.5H558.5V736.5H556.5Z"/>
<path class="d" d="M558.5 712V716M557.5 716.5H559.5V722.5H557.5Z"/>
<path class="d" d="M559.5 720V721M558 721.5H561"/>
<path class="u" d="M559.5 720.5H561.5V724.5H559.5Z"/>
<path class="d" d="M561.5 726V727M560 725.5H563"/>
<path class="d" d="M561.5 720.5H563.5V732.5H561.5Z"/>
<path class="d" d="M562.5 732.5H564.5V736.5H562.5Z"/>
<path class="d" d="M564.5 737V738M563.5 735.5H565.5V736.5H563.5Z"/>
<path class="d" d="M565.5 728V732M564.5 732.5H566.5V740.5H564.5Z"/>
<path class="d" d="M566.5 745V747M565.5 740.5H567.5V744.5H565.5Z"/>
<path class="d" d="M567.5 745.5H569.5V757.5H567.5Z"/>
<path class="d" d="M568.5 758.5H570.5V768.5H568.5Z"/>
<path class="d" d="M569.5 758.5H571.5V768.5H569.5Z"/>
<path class="u" d="M571.5 761V762M570.5 762.5H572.5V763.5H570.5Z"/>
<path class="u" d="M571.5 758.5H573.5V762.5H571.5Z"/>
<path class="d" d="M573.5 756V757M572.5 757.5H574.5V759.5H572.5Z"/>
<path class="d" d="M573.5 760.5H575.5V762.5H573.5Z"/>
<path class="d" d="M575.5 769V770M574.5 767.5H576.5V768.5H574.5Z"/>
<path class="d" d="M575.5 762.5H577.5V776.5H575.5Z"/>
<path class="u" d="M576.5 778.5H578.5V784.5H576.5Z"/>
<path class="u" d="M578.5 779V780M577.5 777.5H579.5V778.5H577.5Z"/>
<path class="d" d="M580.5 772V774M580.5 779V783M579.5 774.5H581.5V778.5H579.5Z"/>
<path class="u" d="M580.5 777.5H582.5V779.5H580.5Z"/>
<path class="u" d="M581.5 778.5H583.5V780.5H581.5Z"/>
<path class="u" d="M584.5 780V781M583.5 777.5H585.5V779.5H583.5Z"/>
<path class="d" d="M585.5 768V772M584.5 772.5H586.5V776.5H584.5Z"/>
<path class="d" d="M586.5 778V779M586.5 780V781M585 779.5H588"/>
<path class="d" d="M586.5 770.5H588.5V784.5H586.5Z"/>
<path class="u" d="M587.5 782.5H589.5V786.5H587.5Z"/>
<path class="u" d="M589.5 779V780M588 780.5H591"/>
<path class="u" d="M589.5 778.5H591.5V780.5H589.5Z"/>
<path class="u" d="M590.5 770.5H592.5V776.5H590.5Z"/>
<path class="u" d="M591.5 772.5H593.5V774.5H591.5Z"/>
<path class="u" d="M593.5 764V768M592.5 768.5H594.5V776.5H592.5Z"/>
<path class="d" d="M594.5 773V774M593.5 774.5H595.5V775.5H593.5Z"/>
<path class="d" d="M594.5 770.5H596.5V780.5H594.5Z"/>
<path class="u" d="M596.5 781V782M595 780.5H598"/>
<path class="d" d="M597.5 780.5H599.5V782.5H597.5Z"/>
<path class="d" d="M598.5 784.5H600.5V786.5H598.5Z"/>
<path class="d" d="M600.5 797V798M599.5 787.5H601.5V796.5H599.5Z"/>
<path class="u" d="M600.5 792.5H602.5V796.5H600.5Z"/>
<path class="u" d="M602.5 790V791M601.5 791.5H603.5V792.5H601.5Z"/>
<path class="d" d="M602.5 791.5H604.5V792.5H602.5Z"/>
<path class="u" d="M603.5 790.5H605.5V794.5H603.5Z"/>
<path class="d" d="M604 790.5H607"/>
<path class="d" d="M606.5 786.5H608.5V788.5H606.5Z"/>
<path class="u" d="M608.5 787V788M607.5 785.5H609.5V786.5H607.5Z"/>
<path class="u" d="M608.5 784.5H610.5V790.5H608.5Z"/>
<path class="d" d="M610.5 768V774M609.5 774.5H611.5V778.5H609.5Z"/>
<path class="d" d="M610.5 775.5H612.5V777.5H610.5Z"/>
<path class="u" d="M612.5 779V781M611.5 776.5H613.5V778.5H611.5Z"/>
<path class="d" d="M613.5 772.5H615.5V776.5H613.5Z"/>
<path class="u" d="M614 774.5H617"/>
<path class="u" d="M615.5 772.5H617.5V776.5H615.5Z"/>
<path class="u" d="M617.5 770V771M617.5 772V773M616 771.5H619"/>
<path class="u" d="M618.5 768.5H620.5V769.5H618.5Z"/>
<path class="u" d="M619.5 766.5H621.5V770.5H619.5Z"/>
<path class="u" d="M621.5 765V766M621.5 767V769M620 766.5H623"/>
<path class="u" d="M622.5 761V762M622.5 764V765M621.5 762.5H623.5V763.5H621.5Z"/>
<path class="d" d="M622.5 762.5H624.5V768.5H622.5Z"/>
<path class="d" d="M623.5 770.5H625.5V774.5H623.5Z"/>
<path class="d" d="M624.5 778.5H626.5V779.5H624.5Z"/>
<path class="d" d="M625.5 774.5H627.5V782.5H625.5Z"/>
<path class="d" d="M626.5 784.5H628.5V785.5H626.5Z"/>
<path class="d" d="M627.5 787.5H629.5V788.5H627.5Z"/>
<path class="u" d="M629.5 789V791M628.5 780.5H630.5V788.5H628.5Z"/>
<path class="u" d="M630.5 781V783M629 780.5H632"/>
<path class="d" d="M630.5 772.5H632.5V778.5H630.5Z"/>
<path class="u" d="M631.5 776.5H633.5V780.5H631.5Z"/>
<path class="u" d="M633.5 773.5H635.5V774.5H633.5Z"/>
<path class="u" d="M634.5 768.5H636.5V772.5H634.5Z"/>
<path class="d" d="M635.5 770.5H637.5V772.5H635.5Z"/>
<path class="d" d="M636.5 774.5H638.5V780.5H636.5Z"/>
<path class="d" d="M637.5 779.5H639.5V780.5H637.5Z"/>
<path class="d" d="M639.5 783V785M638.5 778.5H640.5V782.5H638.5Z"/>
<path class="d" d="M639.5 778.5H641.5V780.5H639.5Z"/>
<path class="u" d="M641.5 771V772M641.5 775V777M640.5 772.5H642.5V774.5H640.5Z"/>
<path class="u" d="M641.5 768.5H643.5V778.5H641.5Z"/>
<path class="u" d="M643.5 765.5H645.5V766.5H643.5Z"/>
<path class="u" d="M645.5 758V760M644.5 760.5H646.5V766.5H644.5Z"/>
<path class="d" d="M646.5 760V761M646.5 762V763M645 761.5H648"/>
<path class="d" d="M646 762.5H649"/>
<path class="u" d="M647.5 762.5H649.5V764.5H647.5Z"/>
<path class="u" d="M650.5 756V758M649.5 758.5H651.5V762.5H649.5Z"/>
<path class="d" d="M650.5 758.5H652.5V762.5H650.5Z"/>
<path class="u" d="M652.5 762V763M651.5 760.5H653.5V761.5H651.5Z"/>
<path class="d" d="M652.5 754.5H654.5V760.5H652.5Z"/>
<path class="u" d="M654.5 748V752M653.5 752.5H655.5V758.5H653.5Z"/>
<path class="d" d="M655.5 752V753M654.5 753.5H656.5V755.5H654.5Z"/>
<path class="u" d="M655.5 760.5H657.5V762.5H655.5Z"/>
<path class="d" d="M657.5 767V768M656 768.5H659"/>
<path class="d" d="M658.5 762V772M657.5 772.5H659.5V782.5H657.5Z"/>
<path class="d" d="M658.5 780.5H660.5V798.5H658.5Z"/>
<path class="u" d="M660.5 790V791M659.5 791.5H661.5V792.5H659.5Z"/>
<path class="u" d="M660.5 782.5H662.5V798.5H660.5Z"/>
<path class="d" d="M662.5 782V783M661 781.5H664"/>
<path class="d" d="M662 778.5H665"/>
<path class="u" d="M663.5 776.5H665.5V794.5H663.5Z"/>
<path class="u" d="M665.5 774V776M664.5 776.5H666.5V780.5H664.5Z"/>
<path class="d" d="M666.5 776.5H668.5V784.5H666.5Z"/>
<path class="d" d="M668.5 787V788M667.5 785.5H669.5V786.5H667.5Z"/>
<path class="d" d="M668.5 784.5H670.5V786.5H668.5Z"/>
<path class="d" d="M669.5 789.5H671.5V791.5H669.5Z"/>
<path class="d" d="M671.5 796V797M670.5 794.5H672.5V795.5H670.5Z"/>
<path class="d" d="M672.5 799V803M671.5 796.5H673.5V798.5H671.5Z"/>
<path class="u" d="M672.5 794.5H674.5V795.5H672.5Z"/>
<path class="u" d="M673.5 790.5H675.5V792.5H673.5Z"/>
<path class="d" d="M674 793.5H677"/>
<path class="d" d="M675.5 790.5H677.5V794.5H675.5Z"/>
<path class="d" d="M677.5 796V797M676.5 794.5H678.5V795.5H676.5Z"/>
<path class="u" d="M678.5 794.5H680.5V796.5H678.5Z"/>
<path class="d" d="M679.5 796.5H681.5V798.5H679.5Z"/>
<path class="u" d="M680.5 794.5H682.5V796.5H680.5Z"/>
<path class="u" d="M681.5 790.5H683.5V791.5H681.5Z"/>
<path class="u" d="M682.5 786.5H684.5V788.5H682.5Z"/>
<path class="u" d="M684.5 781.5H686.5V782.5H684.5Z"/>
<path class="u" d="M685.5 774.5H687.5V782.5H685.5Z"/>
<path class="d" d="M686.5 776.5H688.5V778.5H686.5Z"/>
<path class="d" d="M687.5 780.5H689.5V781.5H687.5Z"/>
<path class="d" d="M688.5 778.5H690.5V782.5H688.5Z"/>
<path class="d" d="M690.5 783V784M689 782.5H692"/>
<path class="d" d="M690.5 778.5H692.5V782.5H690.5Z"/>
<path class="u" d="M692.5 780V781M691.5 781.5H693.5V782.5H691.5Z"/>
<path class="u" d="M693.5 778.5H695.5V780.5H693.5Z"/>
<path class="u" d="M694.5 784.5H696.5V786.5H694.5Z"/>
<path class="d" d="M696.5 782V783M695 783.5H698"/>
<path class="u" d="M696.5 778.5H698.5V784.5H696.5Z"/>
<path class="d" d="M697.5 780.5H699.5V784.5H697.5Z"/>
<path class="d" d="M699.5 782V783M698.5 783.5H700.5V784.5H698.5Z"/>
<path class="d" d="M699.5 784.5H701.5V786.5H699.5Z"/>
<path class="d" d="M700.5 786.5H702.5V788.5H700.5Z"/>
<path class="d" d="M701.5 786.5H703.5V792.5H701.5Z"/>
<path class="d" d="M702.5 796.5H704.5V800.5H702.5Z"/>
<path class="d" d="M704.5 797V798M703 798.5H706"/>
<path class="d" d="M705.5 794V796M704.5 796.5H706.5V798.5H704.5Z"/>
<path class="u" d="M706.5 797V798M705 796.5H708"/>
<path class="d" d="M706.5 797.5H708.5V798.5H706.5Z"/>
<path class="d" d="M707.5 796.5H709.5V798.5H707.5Z"/>
<path class="d" d="M710.5 800V801M709.5 797.5H711.5V799.5H709.5Z"/>
<path class="d" d="M710.5 798.5H712.5V800.5H710.5Z"/>
<path class="d" d="M712.5 802V803M711.5 799.5H713.5V801.5H711.5Z"/>
<path class="d" d="M713.5 800.5H715.5V802.5H713.5Z"/>
<path class="u" d="M714 802.5H717"/>
<path class="u" d="M715.5 800.5H717.5V802.5H715.5Z"/>
<path class="d" d="M716.5 794.5H718.5V796.5H716.5Z"/>
<path class="u" d="M717.5 790.5H719.5V793.5H717.5Z"/>
<path class="d" d="M718.5 790.5H720.5V794.5H718.5Z"/>
<path class="d" d="M721.5 792V793M720 793.5H723"/>
<path class="u" d="M721.5 792.5H723.5V796.5H721.5Z"/>
<path class="u" d="M723.5 790V791M722.5 791.5H724.5V792.5H722.5Z"/>
<path class="u" d="M723.5 790.5H725.5V792.5H723.5Z"/>
<path class="d" d="M724.5 786.5H726.5V788.5H724.5Z"/>
<path class="d" d="M725 788.5H728"/>
<path class="u" d="M726 788.5H729"/>
<path class="u" d="M728.5 783V784M727.5 784.5H729.5V785.5H727.5Z"/>
<path class="u" d="M727.5 780.5H729.5V782.5H727.5Z"/>
<path class="d" d="M729.5 778V779M728 779.5H731"/>
<path class="u" d="M729.5 778.5H731.5V780.5H729.5Z"/>
<path class="u" d="M731.5 768V770M731.5 773V775M730.5 770.5H732.5V772.5H730.5Z"/>
<path class="d" d="M731 773.5H734"/>
<path class="d" d="M732.5 772.5H734.5V774.5H732.5Z"/>
<path class="d" d="M733.5 775.5H735.5V776.5H733.5Z"/>
<path class="d" d="M735.5 766V772M734.5 772.5H736.5V780.5H734.5Z"/>
<path class="u" d="M735.5 776.5H737.5V777.5H735.5Z"/>
<path class="u" d="M737.5 772.5H739.5V778.5H737.5Z"/>
<path class="d" d="M739.5 764.5H741.5V768.5H739.5Z"/>
<path class="d" d="M740.5 766.5H742.5V768.5H740.5Z"/>
<path class="u" d="M741.5 774.5H743.5V776.5H741.5Z"/>
<path class="u" d="M743.5 768.5H745.5V770.5H743.5Z"/>
<path class="u" d="M745.5 766V767M745.5 768V769M744 767.5H747"/>
<path class="u" d="M746.5 765V766M746.5 768V769M745.5 766.5H747.5V767.5H745.5Z"/>
<path class="d" d="M747.5 748V766M746.5 766.5H748.5V774.5H746.5Z"/>
<path class="u" d="M748.5 770V771M747 771.5H750"/>
<path class="u" d="M748 771.5H751"/>
<path class="u" d="M750.5 771V775M749.5 768.5H751.5V770.5H749.5Z"/>
<path class="d" d="M751.5 764V765M750 765.5H753"/>
<path class="u" d="M752.5 752V756M751.5 756.5H753.5V762.5H751.5Z"/>
<path class="d" d="M753.5 760V761M752.5 758.5H754.5V759.5H752.5Z"/>
<path class="d" d="M754.5 760V761M754.5 762V763M753 761.5H756"/>
<path class="u" d="M754.5 764.5H756.5V766.5H754.5Z"/>
<path class="d" d="M757.5 767V768M756 766.5H759"/>
<path class="d" d="M757.5 762.5H759.5V768.5H757.5Z"/>
<path class="d" d="M758.5 769.5H760.5V770.5H758.5Z"/>
<path class="d" d="M759.5 770.5H761.5V776.5H759.5Z"/>
<path class="d" d="M761.5 775V776M760.5 776.5H762.5V777.5H760.5Z"/>
<path class="d" d="M761 778.5H764"/>
<path class="d" d="M762.5 776.5H764.5V778.5H762.5Z"/>
<path class="u" d="M764.5 772.5H766.5V776.5H764.5Z"/>
<path class="u" d="M765.5 764.5H767.5V772.5H765.5Z"/>
<path class="d" d="M766.5 764.5H768.5V765.5H766.5Z"/>
<path class="d" d="M767.5 764.5H769.5V766.5H767.5Z"/>
<path class="u" d="M768.5 766.5H770.5V770.5H768.5Z"/>
<path class="u" d="M769.5 763.5H771.5V764.5H769.5Z"/>
<path class="d" d="M771.5 757V758M770 756.5H773"/>
<path class="d" d="M771.5 756.5H773.5V760.5H771.5Z"/>
<path class="d" d="M772.5 762.5H774.5V764.5H772.5Z"/>
<path class="d" d="M774.5 762.5H776.5V766.5H774.5Z"/>
<path class="d" d="M776.5 769V770M775.5 767.5H777.5V768.5H775.5Z"/>
<path class="d" d="M776.5 764.5H778.5V770.5H776.5Z"/>
<path class="d" d="M778.5 771V772M777 772.5H780"/>
<path class="d" d="M778.5 770.5H780.5V774.5H778.5Z"/>
<path class="u" d="M780.5 770V771M780.5 773V774M779.5 771.5H781.5V772.5H779.5Z"/>
<path class="u" d="M782.5 768V769M781.5 766.5H783.5V767.5H781.5Z"/>
<path class="d" d="M781.5 766.5H783.5V770.5H781.5Z"/>
<path class="d" d="M783.5 770.5H785.5V771.5H783.5Z"/>
<path class="d" d="M785.5 774V775M784 773.5H787"/>
<path class="u" d="M785.5 776.5H787.5V778.5H785.5Z"/>
<path class="u" d="M786 775.5H789"/>
<path class="u" d="M788.5 773V774M787 774.5H790"/>
<path class="d" d="M789.5 774.5H791.5V776.5H789.5Z"/>
<path class="d" d="M790.5 780.5H792.5V786.5H790.5Z"/>
<path class="d" d="M791.5 786.5H793.5V787.5H791.5Z"/>
<path class="d" d="M793.5 791V793M792 790.5H795"/>
<path class="u" d="M793.5 780.5H795.5V782.5H793.5Z"/>
<path class="u" d="M795.5 776V777M794.5 777.5H796.5V779.5H794.5Z"/>
<path class="u" d="M796.5 770V774M795.5 774.5H797.5V782.5H795.5Z"/>
<path class="d" d="M796.5 774.5H798.5V784.5H796.5Z"/>
<path class="u" d="M798.5 785V786M797 784.5H800"/>
<path class="u" d="M798.5 784.5H800.5V786.5H798.5Z"/>
<path class="u" d="M800.5 784V785M799.5 782.5H801.5V783.5H799.5Z"/>
<path class="u" d="M800.5 778.5H802.5V780.5H800.5Z"/>
<path class="u" d="M802.5 774V776M801.5 776.5H803.5V777.5H801.5Z"/>
<path class="d" d="M802.5 774.5H804.5V776.5H802.5Z"/>
<path class="d" d="M803.5 775.5H805.5V777.5H803.5Z"/>
<path class="d" d="M804.5 774.5H806.5V782.5H804.5Z"/>
<path class="d" d="M807.5 783V784M806.5 784.5H808.5V785.5H806.5Z"/>
<path class="d" d="M807.5 778.5H809.5V784.5H807.5Z"/>
<path class="d" d="M809.5 788V789M808.5 786.5H810.5V787.5H808.5Z"/>
<path class="d" d="M809.5 786.5H811.5V790.5H809.5Z"/>
<path class="u" d="M811.5 786.5H813.5V790.5H811.5Z"/>
<path class="u" d="M813.5 785V786M812 786.5H815"/>
<path class="d" d="M813 784.5H816"/>
<path class="d" d="M815.5 785V786M814 784.5H817"/>
<path class="u" d="M816.5 782.5H818.5V784.5H816.5Z"/>
<path class="u" d="M818.5 780V781M818.5 783V784M817.5 781.5H819.5V782.5H817.5Z"/>
<path class="u" d="M818.5 780.5H820.5V784.5H818.5Z"/>
<path class="u" d="M819.5 779.5H821.5V780.5H819.5Z"/>
<path class="d" d="M820.5 776.5H822.5V778.5H820.5Z"/>
<path class="d" d="M823.5 780V781M822 781.5H825"/>
<path class="d" d="M823.5 778.5H825.5V782.5H823.5Z"/>
<path class="u" d="M825.5 784.5H827.5V786.5H825.5Z"/>
<path class="u" d="M827.5 778.5H829.5V782.5H827.5Z"/>
<path class="d" d="M828.5 774.5H830.5V778.5H828.5Z"/>
<path class="u" d="M830.5 778V780M829 777.5H832"/>
<path class="d" d="M831.5 777.5H833.5V778.5H831.5Z"/>
<path class="d" d="M832.5 780.5H834.5V781.5H832.5Z"/>
<path class="d" d="M833.5 776.5H835.5V788.5H833.5Z"/>
<path class="d" d="M835.5 788V789M835.5 791V792M834.5 789.5H836.5V790.5H834.5Z"/>
<path class="d" d="M836.5 793V794M835 792.5H838"/>
<path class="d" d="M836.5 786.5H838.5V794.5H836.5Z"/>
<path class="d" d="M837.5 794.5H839.5V795.5H837.5Z"/>
<path class="d" d="M839.5 794.5H841.5V796.5H839.5Z"/>
<path class="u" d="M841.5 794V795M840.5 795.5H842.5V796.5H840.5Z"/>
<path class="u" d="M842.5 791V792M841.5 792.5H843.5V794.5H841.5Z"/>
<path class="u" d="M842.5 792.5H844.5V794.5H842.5Z"/>
<path class="d" d="M844.5 793V794M843 794.5H846"/>
<path class="d" d="M845.5 794V795M845.5 796V797M844 795.5H847"/>
<path class="u" d="M845 796.5H848"/>
<path class="d" d="M847.5 795V796M846.5 796.5H848.5V797.5H846.5Z"/>
<path class="u" d="M848.5 795V796M847 796.5H850"/>
<path class="d" d="M848.5 794.5H850.5V798.5H848.5Z"/>
<path class="u" d="M849.5 794.5H851.5V795.5H849.5Z"/>
<path class="u" d="M850.5 792.5H852.5V796.5H850.5Z"/>
<path class="d" d="M851.5 800.5H853.5V804.5H851.5Z"/>
<path class="u" d="M852.5 802.5H854.5V803.5H852.5Z"/>
<path class="d" d="M853 803.5H856"/>
<path class="u" d="M855.5 801V802M854 802.5H857"/>
<path class="u" d="M856.5 802V803M855 801.5H858"/>
<path class="u" d="M857.5 800.5H859.5V804.5H857.5Z"/>
<path class="u" d="M858 800.5H861"/>
<path class="d" d="M859.5 798.5H861.5V800.5H859.5Z"/>
<path class="u" d="M861.5 800V801M860.5 798.5H862.5V799.5H860.5Z"/>
<path class="u" d="M861.5 798.5H863.5V800.5H861.5Z"/>
<path class="d" d="M863 798.5H866"/>
<path class="d" d="M864.5 794.5H866.5V796.5H864.5Z"/>
<path class="d" d="M865.5 796.5H867.5V797.5H865.5Z"/>
<path class="u" d="M866 796.5H869"/>
<path class="d" d="M868.5 799V800M867 798.5H870"/>
<path class="d" d="M869.5 800V801M869.5 802V803M868 801.5H871"/>
<path class="d" d="M869.5 800.5H871.5V804.5H869.5Z"/>
<path class="d" d="M870.5 801.5H872.5V803.5H870.5Z"/>
<path class="u" d="M873.5 801V802M872 802.5H875"/>
<path class="u" d="M873.5 802.5H875.5V804.5H873.5Z"/>
<path class="d" d="M874 803.5H877"/>
<path class="u" d="M875 802.5H878"/>
<path class="u" d="M877.5 800V801M876 801.5H879"/>
<path class="d" d="M877.5 800.5H879.5V802.5H877.5Z"/>
<path class="u" d="M878.5 801.5H880.5V803.5H878.5Z"/>
<path class="d" d="M879.5 801.5H881.5V802.5H879.5Z"/>
<path class="u" d="M881 802.5H884"/>
<path class="d" d="M883.5 805V806M882.5 803.5H884.5V804.5H882.5Z"/>
<path class="d" d="M883.5 804.5H885.5V808.5H883.5Z"/>
<path class="d" d="M884 810.5H887"/>
<path class="d" d="M885.5 810.5H887.5V811.5H885.5Z"/>
<path class="d" d="M886.5 808.5H888.5V812.5H886.5Z"/>
<path class="d" d="M887.5 810.5H889.5V812.5H887.5Z"/>
<path class="d" d="M889.5 810.5H891.5V812.5H889.5Z"/>
<path class="d" d="M891.5 814V815M890.5 815.5H892.5V818.5H890.5Z"/>
<path class="u" d="M891.5 818.5H893.5V824.5H891.5Z"/>
<path class="d" d="M892.5 816.5H894.5V818.5H892.5Z"/>
<path class="u" d="M893.5 813.5H895.5V815.5H893.5Z"/>
<path class="u" d="M894.5 810.5H896.5V818.5H894.5Z"/>
<path class="d" d="M896.5 810V811M895 811.5H898"/>
<path class="u" d="M896 811.5H899"/>
<path class="u" d="M897.5 812.5H899.5V814.5H897.5Z"/>
<path class="d" d="M898.5 812.5H900.5V813.5H898.5Z"/>
<path class="d" d="M899.5 812.5H901.5V814.5H899.5Z"/>
<path class="u" d="M901.5 812V813M900 811.5H903"/>
<path class="u" d="M901.5 810.5H903.5V814.5H901.5Z"/>
<path class="u" d="M902.5 808.5H904.5V810.5H902.5Z"/>
<path class="d" d="M903.5 804.5H905.5V806.5H903.5Z"/>
<path class="u" d="M904.5 805.5H906.5V806.5H904.5Z"/>
<path class="u" d="M905.5 804.5H907.5V806.5H905.5Z"/>
<path class="d" d="M908.5 792V796M907 796.5H910"/>
<path class="d" d="M908.5 799.5H910.5V800.5H908.5Z"/>
<path class="d" d="M909.5 801.5H911.5V802.5H909.5Z"/>
<path class="d" d="M910.5 800.5H912.5V806.5H910.5Z"/>
<path class="u" d="M912.5 805V806M911.5 803.5H913.5V804.5H911.5Z"/>
<path class="u" d="M913.5 802V803M912.5 800.5H914.5V801.5H912.5Z"/>
<path class="u" d="M914.5 801V807M913.5 798.5H915.5V800.5H913.5Z"/>
<path class="d" d="M914.5 788.5H916.5V790.5H914.5Z"/>
<path class="d" d="M915 792.5H918"/>
<path class="d" d="M917.5 792.5H919.5V794.5H917.5Z"/>
<path class="u" d="M919.5 791V792M918.5 792.5H920.5V793.5H918.5Z"/>
<path class="d" d="M919.5 790.5H921.5V796.5H919.5Z"/>
<path class="d" d="M920 792.5H923"/>
<path class="u" d="M921.5 792.5H923.5V794.5H921.5Z"/>
<path class="u" d="M922.5 798.5H924.5V800.5H922.5Z"/>
<path class="u" d="M923 797.5H926"/>
<path class="d" d="M925.5 796.5H927.5V798.5H925.5Z"/>
<path class="u" d="M927.5 795V796M926.5 793.5H928.5V794.5H926.5Z"/>
<path class="u" d="M927.5 788.5H929.5V798.5H927.5Z"/>
<path class="u" d="M930.5 782V783M929.5 780.5H931.5V781.5H929.5Z"/>
<path class="d" d="M930.5 780.5H932.5V788.5H930.5Z"/>
<path class="u" d="M932.5 777V778M932.5 784V785M931.5 778.5H933.5V783.5H931.5Z"/>
<path class="d" d="M932.5 778.5H934.5V784.5H932.5Z"/>
<path class="d" d="M934.5 786V787M933.5 784.5H935.5V785.5H933.5Z"/>
<path class="u" d="M934 784.5H937"/>
<path class="u" d="M936.5 776.5H938.5V784.5H936.5Z"/>
<path class="d" d="M938.5 780V781M938.5 784V785M937.5 781.5H939.5V783.5H937.5Z"/>
<path class="d" d="M938.5 784.5H940.5V786.5H938.5Z"/>
<path class="d" d="M940.5 784V785M939.5 785.5H941.5V787.5H939.5Z"/>
<path class="d" d="M941.5 786.5H943.5V788.5H941.5Z"/>
<path class="u" d="M943.5 786V787M942 787.5H945"/>
<path class="u" d="M943.5 785.5H945.5V786.5H943.5Z"/>
<path class="d" d="M944.5 782.5H946.5V786.5H944.5Z"/>
<path class="u" d="M945.5 781.5H947.5V783.5H945.5Z"/>
<path class="u" d="M946.5 775V776M945.5 776.5H947.5V777.5H945.5Z"/>
<path class="u" d="M947.5 768.5H949.5V774.5H947.5Z"/>
<path class="d" d="M948.5 772.5H950.5V775.5H948.5Z"/>
<path class="d" d="M949.5 770.5H951.5V780.5H949.5Z"/>
<path class="d" d="M951.5 779V780M950.5 780.5H952.5V781.5H950.5Z"/>
<path class="d" d="M951 780.5H954"/>
<path class="d" d="M954.5 783V784M953.5 781.5H955.5V782.5H953.5Z"/>
<path class="d" d="M954.5 782.5H956.5V786.5H954.5Z"/>
<path class="u" d="M956.5 781V782M955.5 782.5H957.5V783.5H955.5Z"/>
<path class="u" d="M956.5 780.5H958.5V782.5H956.5Z"/>
<path class="u" d="M958.5 775V776M958.5 777V778M957 776.5H960"/>
<path class="d" d="M958.5 776.5H960.5V780.5H958.5Z"/>
<path class="u" d="M960.5 777V778M960.5 780V781M959.5 778.5H961.5V779.5H959.5Z"/>
<path class="u" d="M961.5 778.5H963.5V780.5H961.5Z"/>
<path class="d" d="M963.5 781V782M962.5 779.5H964.5V780.5H962.5Z"/>
<path class="d" d="M963.5 778.5H965.5V782.5H963.5Z"/>
<path class="d" d="M965.5 785V786M964 786.5H967"/>
<path class="d" d="M965.5 786.5H967.5V792.5H965.5Z"/>
<path class="d" d="M966.5 794.5H968.5V796.5H966.5Z"/>
<path class="d" d="M967.5 798.5H969.5V801.5H967.5Z"/>
<path class="d" d="M968.5 802.5H970.5V806.5H968.5Z"/>
<path class="d" d="M971.5 807V808M970 808.5H973"/>
<path class="d" d="M971.5 808.5H973.5V810.5H971.5Z"/>
<path class="u" d="M973.5 810V811M972.5 808.5H974.5V809.5H972.5Z"/>
<path class="u" d="M973.5 806.5H975.5V808.5H973.5Z"/>
<path class="d" d="M975.5 810V811M974.5 808.5H976.5V809.5H974.5Z"/>
<path class="d" d="M975.5 808.5H977.5V810.5H975.5Z"/>
<path class="d" d="M976.5 810.5H978.5V812.5H976.5Z"/>
<path class="d" d="M977 809.5H980"/>
<path class="u" d="M978 808.5H981"/>
<path class="u" d="M979.5 806.5H981.5V810.5H979.5Z"/>
<path class="d" d="M980.5 808.5H982.5V810.5H980.5Z"/>
<path class="d" d="M981.5 808.5H983.5V814.5H981.5Z"/>
<path class="d" d="M983.5 817V818M982.5 815.5H984.5V816.5H982.5Z"/>
<path class="d" d="M984.5 814.5H986.5V818.5H984.5Z"/>
<path class="u" d="M985 816.5H988"/>
<path class="u" d="M986 816.5H989"/>
<path class="u" d="M987.5 814.5H989.5V816.5H987.5Z"/>
<path class="d" d="M989.5 814V815M988 815.5H991"/>
<path class="u" d="M989.5 814.5H991.5V816.5H989.5Z"/>
<path class="d" d="M990 814.5H993"/>
<path class="d" d="M991 817.5H994"/>
<path class="d" d="M993.5 818V819M992 817.5H995"/>
<path class="d" d="M993.5 818.5H995.5V820.5H993.5Z"/>
<path class="u" d="M994.5 818.5H996.5V819.5H994.5Z"/>
<path class="u" d="M996.5 816.5H998.5V818.5H996.5Z"/>
<path class="u" d="M998.5 816V817M998.5 818V819M997 817.5H1000"/>
<path class="u" d="M999.5 817V818M998 816.5H1001"/>
<path class="d" d="M1000.5 816V817M999 815.5H1002"/>
<path class="d" d="M1001.5 816V817M1000 815.5H1003"/>
<path class="u" d="M1001.5 814.5H1003.5V816.5H1001.5Z"/>
<path class="d" d="M1003.5 814V815M1003.5 816V817M1002 815.5H1005"/>
<path class="d" d="M1003.5 814.5H1005.5V816.5H1003.5Z"/>
<path class="d" d="M1005.5 816.5H1007.5V817.5H1005.5Z"/>
<path class="d" d="M1006.5 816.5H1008.5V818.5H1006.5Z"/>
<path class="d" d="M1008.5 816V817M1007.5 817.5H1009.5V818.5H1007.5Z"/>
<path class="u" d="M1009.5 817V818M1008 818.5H1011"/>
<path class="d" d="M1010.5 816.5H1012.5V818.5H1010.5Z"/>
<path class="u" d="M1011.5 817.5H1013.5V819.5H1011.5Z"/>
<path class="u" d="M1012.5 816.5H1014.5V817.5H1012.5Z"/>
<path class="u" d="M1013.5 814.5H1015.5V816.5H1013.5Z"/>
<path class="u" d="M1014.5 812.5H1016.5V814.5H1014.5Z"/>
<path class="u" d="M1016.5 809V810M1015.5 810.5H1017.5V811.5H1015.5Z"/>
<path class="d" d="M1017.5 810.5H1019.5V814.5H1017.5Z"/>
<path class="d" d="M1018.5 815.5H1020.5V816.5H1018.5Z"/>
<path class="d" d="M1019.5 814.5H1021.5V816.5H1019.5Z"/>
<path class="d" d="M1021.5 815V816M1020 816.5H1023"/>
<path class="u" d="M1021 815.5H1024"/>
<path class="u" d="M1022 816.5H1025"/>
<path class="d" d="M1024.5 816V817M1023 817.5H1026"/>
<path class="d" d="M1024.5 816.5H1026.5V820.5H1024.5Z"/>
<path class="d" d="M1025 820.5H1028"/>
<path class="d" d="M1026.5 820.5H1028.5V821.5H1026.5Z"/>
<path class="d" d="M1028.5 821V822M1027 822.5H1030"/>
<path class="d" d="M1029.5 820.5H1031.5V822.5H1029.5Z"/>
<path class="u" d="M1030.5 821.5H1032.5V822.5H1030.5Z"/>
<path class="d" d="M1031.5 821.5H1033.5V822.5H1031.5Z"/>
<path class="u" d="M1032 820.5H1035"/>
<path class="d" d="M1033.5 822.5H1035.5V823.5H1033.5Z"/>
<path class="d" d="M1034.5 820.5H1036.5V824.5H1034.5Z"/>
<path class="d" d="M1035 825.5H1038"/>
<path class="u" d="M1037.5 824V825M1036 825.5H1039"/>
<path class="u" d="M1037.5 824.5H1039.5V826.5H1037.5Z"/>
<path class="u" d="M1038.5 823.5H1040.5V824.5H1038.5Z"/>
<path class="d" d="M1039.5 820.5H1041.5V822.5H1039.5Z"/>
<path class="u" d="M1042.5 813V814M1041.5 814.5H1043.5V819.5H1041.5Z"/>
<path class="d" d="M1042.5 814.5H1044.5V818.5H1042.5Z"/>
<path class="d" d="M1043 819.5H1046"/>
<path class="d" d="M1044.5 821.5H1046.5V822.5H1044.5Z"/>
<path class="d" d="M1046.5 818.5H1048.5V822.5H1046.5Z"/>
<path class="u" d="M1047.5 820.5H1049.5V821.5H1047.5Z"/>
<path class="u" d="M1048.5 818.5H1050.5V820.5H1048.5Z"/>
<path class="u" d="M1049.5 813.5H1051.5V814.5H1049.5Z"/>
<path class="u" d="M1051.5 806.5H1053.5V820.5H1051.5Z"/>
<path class="d" d="M1054.5 811V812M1053.5 809.5H1055.5V810.5H1053.5Z"/>
<path class="d" d="M1053.5 808.5H1055.5V810.5H1053.5Z"/>
<path class="u" d="M1055.5 804.5H1057.5V805.5H1055.5Z"/>
<path class="u" d="M1056.5 800.5H1058.5V808.5H1056.5Z"/>
<path class="u" d="M1057 799.5H1060"/>
<path class="u" d="M1059.5 798.5H1061.5V800.5H1059.5Z"/>
<path class="d" d="M1060.5 799V800M1059 798.5H1062"/>
<path class="u" d="M1060.5 796.5H1062.5V797.5H1060.5Z"/>
<path class="d" d="M1061.5 796.5H1063.5V806.5H1061.5Z"/>
<path class="u" d="M1064.5 801V802M1063.5 799.5H1065.5V800.5H1063.5Z"/>
<path class="u" d="M1065.5 790V792M1064.5 792.5H1066.5V796.5H1064.5Z"/>
<path class="d" d="M1065.5 796.5H1067.5V802.5H1065.5Z"/>
<path class="u" d="M1067.5 797V798M1066.5 798.5H1068.5V800.5H1066.5Z"/>
<path class="u" d="M1067.5 792.5H1069.5V796.5H1067.5Z"/>
<path class="d" d="M1068.5 792.5H1070.5V800.5H1068.5Z"/>
<path class="d" d="M1070.5 799V800M1069 800.5H1072"/>
<path class="d" d="M1071.5 796.5H1073.5V800.5H1071.5Z"/>
<path class="d" d="M1073.5 803V804M1072 802.5H1075"/>
<path class="d" d="M1073.5 798.5H1075.5V804.5H1073.5Z"/>
<path class="u" d="M1075.5 791V792M1075.5 803V804M1074.5 792.5H1076.5V802.5H1074.5Z"/>
<path class="u" d="M1075.5 782.5H1077.5V796.5H1075.5Z"/>
<path class="u" d="M1076.5 776.5H1078.5V778.5H1076.5Z"/>
<path class="d" d="M1079.5 777V778M1078.5 778.5H1080.5V779.5H1078.5Z"/>
<path class="d" d="M1079.5 778.5H1081.5V782.5H1079.5Z"/>
<path class="u" d="M1081.5 774V775M1080.5 772.5H1082.5V773.5H1080.5Z"/>
<path class="d" d="M1081.5 772.5H1083.5V780.5H1081.5Z"/>
<path class="d" d="M1083.5 780V781M1082.5 781.5H1084.5V782.5H1082.5Z"/>
<path class="d" d="M1083.5 776.5H1085.5V782.5H1083.5Z"/>
<path class="d" d="M1084.5 782.5H1086.5V784.5H1084.5Z"/>
<path class="u" d="M1085.5 781.5H1087.5V782.5H1085.5Z"/>
<path class="u" d="M1087.5 780.5H1089.5V782.5H1087.5Z"/>
<path class="u" d="M1088.5 779.5H1090.5V781.5H1088.5Z"/>
<path class="d" d="M1089.5 778.5H1091.5V782.5H1089.5Z"/>
<path class="u" d="M1091.5 779V780M1090 780.5H1093"/>
<path class="d" d="M1092.5 781V782M1091 780.5H1094"/>
<path class="u" d="M1092.5 778.5H1094.5V780.5H1092.5Z"/>
<path class="u" d="M1094.5 772.5H1096.5V774.5H1094.5Z"/>
<path class="d" d="M1095.5 776.5H1097.5V782.5H1095.5Z"/>
<path class="u" d="M1098.5 781V782M1097 780.5H1100"/>
<path class="u" d="M1099.5 774V776M1098.5 776.5H1100.5V782.5H1098.5Z"/>
<path class="u" d="M1100.5 775V776M1100.5 777V779M1099 776.5H1102"/>
<path class="d" d="M1100.5 777.5H1102.5V779.5H1100.5Z"/>
<path class="d" d="M1101.5 778.5H1103.5V780.5H1101.5Z"/>
<path class="d" d="M1103.5 781V782M1102 782.5H1105"/>
<path class="d" d="M1104.5 787V789M1103.5 784.5H1105.5V786.5H1103.5Z"/>
<path class="u" d="M1105.5 786V787M1104 785.5H1107"/>
<path class="d" d="M1105.5 780.5H1107.5V784.5H1105.5Z"/>
<path class="d" d="M1107.5 783V784M1107.5 785V786M1106 784.5H1109"/>
<path class="u" d="M1108.5 782.5H1110.5V784.5H1108.5Z"/>
<path class="u" d="M1109.5 774.5H1111.5V778.5H1109.5Z"/>
<path class="u" d="M1110.5 765.5H1112.5V769.5H1110.5Z"/>
<path class="u" d="M1112.5 754V758M1111.5 758.5H1113.5V760.5H1111.5Z"/>
<path class="u" d="M1112.5 740.5H1114.5V752.5H1112.5Z"/>
<path class="d" d="M1114.5 744V745M1113 743.5H1116"/>
<path class="d" d="M1114.5 746.5H1116.5V750.5H1114.5Z"/>
<path class="d" d="M1115 753.5H1118"/>
<path class="d" d="M1116.5 748.5H1118.5V758.5H1116.5Z"/>
<path class="d" d="M1117.5 758.5H1119.5V774.5H1117.5Z"/>
<path class="d" d="M1119 775.5H1122"/>
<path class="d" d="M1120.5 770.5H1122.5V776.5H1120.5Z"/>
<path class="d" d="M1121.5 781.5H1123.5V783.5H1121.5Z"/>
<path class="d" d="M1123.5 778.5H1125.5V786.5H1123.5Z"/>
<path class="u" d="M1124.5 781.5H1126.5V784.5H1124.5Z"/>
<path class="u" d="M1125.5 776.5H1127.5V780.5H1125.5Z"/>
<path class="u" d="M1127.5 769V770M1126.5 770.5H1128.5V771.5H1126.5Z"/>
<path class="u" d="M1129.5 764V766M1128.5 766.5H1130.5V768.5H1128.5Z"/>
<path class="d" d="M1130.5 767V768M1130.5 769V770M1129 768.5H1132"/>
<path class="u" d="M1130.5 768.5H1132.5V772.5H1130.5Z"/>
<path class="u" d="M1132.5 764V766M1131.5 766.5H1133.5V768.5H1131.5Z"/>
<path class="d" d="M1134.5 771V772M1133.5 768.5H1135.5V770.5H1133.5Z"/>
<path class="d" d="M1134.5 766.5H1136.5V776.5H1134.5Z"/>
<path class="u" d="M1135.5 776.5H1137.5V777.5H1135.5Z"/>
<path class="d" d="M1137.5 775V776M1136.5 776.5H1138.5V777.5H1136.5Z"/>
<path class="u" d="M1137.5 776.5H1139.5V780.5H1137.5Z"/>
<path class="d" d="M1138.5 780.5H1140.5V784.5H1138.5Z"/>
<path class="d" d="M1140.5 789V791M1139.5 778.5H1141.5V788.5H1139.5Z"/>
<path class="u" d="M1140.5 787.5H1142.5V789.5H1140.5Z"/>
<path class="u" d="M1142.5 788V789M1141 787.5H1144"/>
<path class="d" d="M1142.5 786.5H1144.5V788.5H1142.5Z"/>
<path class="u" d="M1144.5 783V784M1144.5 785V786M1143 784.5H1146"/>
<path class="u" d="M1144.5 782.5H1146.5V786.5H1144.5Z"/>
<path class="u" d="M1146.5 778.5H1148.5V779.5H1146.5Z"/>
<path class="u" d="M1147.5 776.5H1149.5V778.5H1147.5Z"/>
<path class="d" d="M1149.5 778V779M1149.5 781V782M1148.5 779.5H1150.5V780.5H1148.5Z"/>
<path class="d" d="M1149.5 778.5H1151.5V782.5H1149.5Z"/>
<path class="u" d="M1151.5 780V781M1150.5 781.5H1152.5V783.5H1150.5Z"/>
<path class="u" d="M1153.5 778V779M1152.5 779.5H1154.5V780.5H1152.5Z"/>
<path class="u" d="M1153.5 778.5H1155.5V782.5H1153.5Z"/>
<path class="d" d="M1154 778.5H1157"/>
<path class="u" d="M1155.5 774.5H1157.5V780.5H1155.5Z"/>
<path class="d" d="M1158.5 775V776M1157 776.5H1160"/>
<path class="d" d="M1158.5 774.5H1160.5V776.5H1158.5Z"/>
<path class="u" d="M1160.5 774V775M1159 775.5H1162"/>
<path class="u" d="M1160.5 770.5H1162.5V772.5H1160.5Z"/>
<path class="u" d="M1161.5 766.5H1163.5V770.5H1161.5Z"/>
<path class="u" d="M1163.5 769V770M1162.5 766.5H1164.5V768.5H1162.5Z"/>
<path class="u" d="M1164.5 766.5H1166.5V768.5H1164.5Z"/>
<path class="u" d="M1165.5 760.5H1167.5V762.5H1165.5Z"/>
<path class="u" d="M1166.5 754.5H1168.5V762.5H1166.5Z"/>
<path class="d" d="M1167.5 750.5H1169.5V754.5H1167.5Z"/>
<path class="u" d="M1169.5 754V756M1168.5 751.5H1170.5V753.5H1168.5Z"/>
<path class="d" d="M1169.5 748.5H1171.5V752.5H1169.5Z"/>
<path class="d" d="M1171.5 754.5H1173.5V755.5H1171.5Z"/>
<path class="d" d="M1172.5 752.5H1174.5V760.5H1172.5Z"/>
<path class="u" d="M1174.5 732V733M1173.5 733.5H1175.5V753.5H1173.5Z"/>
<path class="u" d="M1175.5 711V713M1174.5 713.5H1176.5V726.5H1174.5Z"/>
<path class="u" d="M1176.5 662V682M1175.5 682.5H1177.5V759.5H1175.5Z"/>
<path class="d" d="M1178.5 693V695M1177.5 682.5H1179.5V692.5H1177.5Z"/>
<path class="d" d="M1180.5 680.5H1182.5V690.5H1180.5Z"/>
<path class="u" d="M1184.5 666V670M1183.5 670.5H1185.5V686.5H1183.5Z"/>
<path class="d" d="M1187.5 626V646M1186.5 646.5H1188.5V664.5H1186.5Z"/>
<path class="u" d="M1189.5 576V584M1188.5 584.5H1190.5V624.5H1188.5Z"/>
<path class="d" d="M1192.5 611V615M1191.5 596.5H1193.5V610.5H1191.5Z"/>
<path class="d" d="M1195.5 625V635M1194.5 614.5H1196.5V624.5H1194.5Z"/>
<path class="d" d="M1197.5 610V616M1196.5 616.5H1198.5V620.5H1196.5Z"/>
<path class="d" d="M1198.5 627V635M1197.5 622.5H1199.5V626.5H1197.5Z"/>
<path class="d" d="M1200.5 638V642M1200.5 649V653M1199.5 642.5H1201.5V648.5H1199.5Z"/>
<path class="d" d="M1202.5 650V654M1201.5 654.5H1203.5V668.5H1201.5Z"/>
<path class="d" d="M1202.5 676.5H1204.5V680.5H1202.5Z"/>
<path class="u" d="M1205.5 660V666M1204.5 666.5H1206.5V690.5H1204.5Z"/>
<path class="d" d="M1208.5 671V673M1207.5 660.5H1209.5V670.5H1207.5Z"/>
<path class="u" d="M1208.5 648.5H1210.5V660.5H1208.5Z"/>
<path class="d" d="M1210.5 648.5H1212.5V650.5H1210.5Z"/>
<path class="d" d="M1212.5 648.5H1214.5V656.5H1212.5Z"/>
<path class="u" d="M1213.5 644.5H1215.5V652.5H1213.5Z"/>
<path class="d" d="M1215.5 666.5H1217.5V676.5H1215.5Z"/>
<path class="d" d="M1216.5 678.5H1218.5V686.5H1216.5Z"/>
<path class="u" d="M1220.5 687V691M1219.5 678.5H1221.5V686.5H1219.5Z"/>
<path class="u" d="M1222.5 666V670M1221.5 670.5H1223.5V676.5H1221.5Z"/>
<path class="d" d="M1223.5 670.5H1225.5V680.5H1223.5Z"/>
<path class="d" d="M1224.5 680.5H1226.5V698.5H1224.5Z"/>
<path class="d" d="M1226.5 712.5H1228.5V722.5H1226.5Z"/>
<path class="d" d="M1228.5 749V753M1227.5 722.5H1229.5V748.5H1227.5Z"/>
<path class="d" d="M1229.5 744.5H1231.5V758.5H1229.5Z"/>
<path class="d" d="M1231.5 754.5H1233.5V762.5H1231.5Z"/>
<path class="d" d="M1233.5 756V760M1233.5 765V769M1232.5 760.5H1234.5V764.5H1232.5Z"/>
<path class="u" d="M1236.5 748V750M1235.5 750.5H1237.5V760.5H1235.5Z"/>
<path class="u" d="M1237.5 740.5H1239.5V746.5H1237.5Z"/>
<path class="d" d="M1239.5 736V738M1238.5 738.5H1240.5V744.5H1238.5Z"/>
<path class="d" d="M1241.5 744.5H1243.5V748.5H1241.5Z"/>
<path class="d" d="M1243.5 748.5H1245.5V750.5H1243.5Z"/>
<path class="d" d="M1246.5 748.5H1248.5V764.5H1246.5Z"/>
<path class="u" d="M1249.5 752.5H1251.5V762.5H1249.5Z"/>
<path class="d" d="M1252.5 744V750M1251.5 750.5H1253.5V752.5H1251.5Z"/>
<path class="d" d="M1254.5 752.5H1256.5V754.5H1254.5Z"/>
<path class="d" d="M1257.5 750.5H1259.5V760.5H1257.5Z"/>
<path class="d" d="M1259.5 762.5H1261.5V766.5H1259.5Z"/>
<path class="u" d="M1262.5 750.5H1264.5V766.5H1262.5Z"/>
<path class="d" d="M1263.5 754.5H1265.5V756.5H1263.5Z"/>
<path class="u" d="M1265.5 752.5H1267.5V756.5H1265.5Z"/>
<path class="u" d="M1267.5 738.5H1269.5V748.5H1267.5Z"/>
<path class="u" d="M1268.5 714.5H1270.5V718.5H1268.5Z"/>
<path class="d" d="M1270.5 708.5H1272.5V720.5H1270.5Z"/>
<path class="u" d="M1274.5 719V723M1273.5 708.5H1275.5V718.5H1273.5Z"/>
<path class="d" d="M1274.5 678.5H1276.5V680.5H1274.5Z"/>
<path class="u" d="M1276.5 680.5H1278.5V686.5H1276.5Z"/>
<path class="d" d="M1279.5 676V678M1278.5 678.5H1280.5V692.5H1278.5Z"/>
<path class="d" d="M1281.5 686.5H1283.5V698.5H1281.5Z"/>
<path class="u" d="M1283.5 708.5H1285.5V710.5H1283.5Z"/>
<path class="u" d="M1285.5 668V670M1284.5 670.5H1286.5V712.5H1284.5Z"/>
<path class="d" d="M1285.5 676.5H1287.5V678.5H1285.5Z"/>
<path class="d" d="M1287.5 682.5H1289.5V692.5H1287.5Z"/>
<path class="d" d="M1290.5 707V711M1289.5 688.5H1291.5V706.5H1289.5Z"/>
<path class="d" d="M1291.5 704.5H1293.5V722.5H1291.5Z"/>
<path class="u" d="M1294.5 696V698M1293.5 698.5H1295.5V720.5H1293.5Z"/>
<path class="u" d="M1295.5 700.5H1297.5V708.5H1295.5Z"/>
<path class="d" d="M1297.5 684V692M1296.5 692.5H1298.5V696.5H1296.5Z"/>
<path class="d" d="M1299.5 678V680M1299.5 683V685M1298.5 680.5H1300.5V682.5H1298.5Z"/>
<path class="d" d="M1300.5 704.5H1302.5V714.5H1300.5Z"/>
<path class="d" d="M1301.5 694.5H1303.5V702.5H1301.5Z"/>
<path class="d" d="M1305.5 698V702M1304.5 702.5H1306.5V706.5H1304.5Z"/>
<path class="d" d="M1306.5 712.5H1308.5V726.5H1306.5Z"/>
<path class="u" d="M1309.5 712.5H1311.5V716.5H1309.5Z"/>
<path class="d" d="M1312.5 712.5H1314.5V720.5H1312.5Z"/>
<path class="d" d="M1314.5 712.5H1316.5V718.5H1314.5Z"/>
<path class="d" d="M1315.5 720.5H1317.5V722.5H1315.5Z"/>
<path class="d" d="M1317.5 727V728M1316.5 723.5H1318.5V726.5H1316.5Z"/>
<path class="d" d="M1317.5 726.5H1319.5V732.5H1317.5Z"/>
<path class="d" d="M1318.5 736.5H1320.5V744.5H1318.5Z"/>
<path class="d" d="M1319.5 747.5H1321.5V764.5H1319.5Z"/>
<path class="u" d="M1320.5 748.5H1322.5V764.5H1320.5Z"/>
<path class="u" d="M1322.5 747V748M1321.5 744.5H1323.5V746.5H1321.5Z"/>
<path class="u" d="M1322.5 740.5H1324.5V752.5H1322.5Z"/>
<path class="d" d="M1324.5 739V741M1323 741.5H1326"/>
<path class="d" d="M1325.5 736V738M1324.5 738.5H1326.5V740.5H1324.5Z"/>
<path class="d" d="M1326.5 743V744M1325 742.5H1328"/>
<path class="u" d="M1326 744.5H1329"/>
<path class="u" d="M1328.5 740V741M1327 741.5H1330"/>
<path class="u" d="M1329.5 745V749M1328.5 738.5H1330.5V744.5H1328.5Z"/>
<path class="u" d="M1329 736.5H1332"/>
<path class="d" d="M1331.5 729V730M1330 730.5H1333"/>
<path class="d" d="M1331.5 730.5H1333.5V738.5H1331.5Z"/>
<path class="d" d="M1332 739.5H1335"/>
<path class="d" d="M1333.5 738.5H1335.5V742.5H1333.5Z"/>
<path class="d" d="M1334.5 742.5H1336.5V748.5H1334.5Z"/>
<path class="u" d="M1335.5 745.5H1337.5V746.5H1335.5Z"/>
<path class="d" d="M1337.5 742.5H1339.5V746.5H1337.5Z"/>
<path class="d" d="M1339.5 746V747M1338 745.5H1341"/>
<path class="d" d="M1339.5 744.5H1341.5V748.5H1339.5Z"/>
<path class="d" d="M1340.5 748.5H1342.5V750.5H1340.5Z"/>
<path class="d" d="M1342.5 757V758M1341.5 754.5H1343.5V756.5H1341.5Z"/>
<path class="d" d="M1343.5 756V758M1342.5 758.5H1344.5V760.5H1342.5Z"/>
<path class="u" d="M1344.5 752V753M1343.5 753.5H1345.5V755.5H1343.5Z"/>
<path class="u" d="M1344.5 748.5H1346.5V752.5H1344.5Z"/>
<path class="u" d="M1346.5 744V748M1345.5 748.5H1347.5V750.5H1345.5Z"/>
<path class="d" d="M1347.5 754V755M1346.5 751.5H1348.5V753.5H1346.5Z"/>
<path class="d" d="M1347.5 748.5H1349.5V754.5H1347.5Z"/>
<path class="d" d="M1348.5 754.5H1350.5V758.5H1348.5Z"/>
<path class="d" d="M1350.5 759V760M1349 760.5H1352"/>
<path class="d" d="M1350.5 760.5H1352.5V762.5H1350.5Z"/>
<path class="d" d="M1351.5 760.5H1353.5V770.5H1351.5Z"/>
<path class="d" d="M1352.5 777.5H1354.5V790.5H1352.5Z"/>
<path class="d" d="M1354.5 792V796M1354.5 799V805M1353.5 796.5H1355.5V798.5H1353.5Z"/>
<path class="u" d="M1354.5 786.5H1356.5V788.5H1354.5Z"/>
<path class="u" d="M1356.5 783V784M1355.5 784.5H1357.5V785.5H1355.5Z"/>
<path class="d" d="M1356.5 784.5H1358.5V790.5H1356.5Z"/>
<path class="u" d="M1357 787.5H1360"/>
<path class="u" d="M1358.5 782.5H1360.5V784.5H1358.5Z"/>
<path class="d" d="M1359.5 778.5H1361.5V780.5H1359.5Z"/>
<path class="u" d="M1360.5 779.5H1362.5V781.5H1360.5Z"/>
<path class="u" d="M1361.5 780.5H1363.5V784.5H1361.5Z"/>
<path class="u" d="M1363.5 776.5H1365.5V778.5H1363.5Z"/>
<path class="d" d="M1363.5 774.5H1365.5V776.5H1363.5Z"/>
<path class="u" d="M1365.5 774.5H1367.5V776.5H1365.5Z"/>
<path class="d" d="M1366.5 776.5H1368.5V780.5H1366.5Z"/>
<path class="u" d="M1367.5 772.5H1369.5V776.5H1367.5Z"/>
<path class="d" d="M1369.5 772V773M1368.5 773.5H1370.5V774.5H1368.5Z"/>
<path class="d" d="M1369.5 776.5H1371.5V778.5H1369.5Z"/>
<path class="u" d="M1372.5 777V778M1371.5 772.5H1373.5V776.5H1371.5Z"/>
<path class="u" d="M1372.5 760.5H1374.5V774.5H1372.5Z"/>
<path class="d" d="M1373.5 762.5H1375.5V764.5H1373.5Z"/>
<path class="d" d="M1375.5 762V763M1374 763.5H1377"/>
<path class="u" d="M1375.5 762.5H1377.5V764.5H1375.5Z"/>
<path class="d" d="M1377.5 766V767M1377.5 768V769M1376 767.5H1379"/>
<path class="d" d="M1377.5 770.5H1379.5V776.5H1377.5Z"/>
<path class="d" d="M1378.5 776.5H1380.5V782.5H1378.5Z"/>
<path class="d" d="M1380.5 782V783M1379.5 783.5H1381.5V785.5H1379.5Z"/>
<path class="u" d="M1381.5 784V786M1380.5 786.5H1382.5V788.5H1380.5Z"/>
<path class="d" d="M1382 788.5H1385"/>
<path class="d" d="M1384.5 789V790M1383 788.5H1386"/>
<path class="u" d="M1384.5 778.5H1386.5V788.5H1384.5Z"/>
<path class="d" d="M1385 780.5H1388"/>
<path class="d" d="M1386.5 778.5H1388.5V780.5H1386.5Z"/>
<path class="u" d="M1387.5 776.5H1389.5V777.5H1387.5Z"/>
<path class="u" d="M1388.5 772.5H1390.5V780.5H1388.5Z"/>
<path class="d" d="M1389.5 774.5H1391.5V778.5H1389.5Z"/>
<path class="d" d="M1391.5 776.5H1393.5V780.5H1391.5Z"/>
<path class="u" d="M1392.5 768.5H1394.5V774.5H1392.5Z"/>
<path class="u" d="M1394.5 768V769M1393 767.5H1396"/>
<path class="u" d="M1395.5 764.5H1397.5V768.5H1395.5Z"/>
<path class="d" d="M1396 764.5H1399"/>
<path class="d" d="M1397.5 764.5H1399.5V766.5H1397.5Z"/>
<path class="u" d="M1399.5 765V766M1398 766.5H1401"/>
<path class="u" d="M1400.5 762V764M1399.5 764.5H1401.5V768.5H1399.5Z"/>
<path class="d" d="M1400.5 772.5H1402.5V774.5H1400.5Z"/>
<path class="u" d="M1403.5 760V764M1402.5 764.5H1404.5V768.5H1402.5Z"/>
<path class="d" d="M1403.5 768.5H1405.5V772.5H1403.5Z"/>
<path class="u" d="M1404.5 769.5H1406.5V770.5H1404.5Z"/>
<path class="d" d="M1405.5 764.5H1407.5V766.5H1405.5Z"/>
<path class="u" d="M1406 766.5H1409"/>
<path class="u" d="M1407.5 764.5H1409.5V768.5H1407.5Z"/>
<path class="u" d="M1409.5 763V764M1408 764.5H1411"/>
<path class="u" d="M1410.5 762V763M1409 763.5H1412"/>
<path class="u" d="M1410.5 762.5H1412.5V764.5H1410.5Z"/>
<path class="d" d="M1411 764.5H1414"/>
<path class="u" d="M1413.5 761V762M1412.5 762.5H1414.5V763.5H1412.5Z"/>
<path class="u" d="M1413.5 756.5H1415.5V766.5H1413.5Z"/>
<path class="u" d="M1415.5 748V752M1414.5 752.5H1416.5V756.5H1414.5Z"/>
<path class="u" d="M1416.5 750V751M1415 751.5H1418"/>
<path class="u" d="M1417.5 749V750M1417.5 752V753M1416.5 750.5H1418.5V751.5H1416.5Z"/>
<path class="d" d="M1418.5 744V750M1417.5 750.5H1419.5V762.5H1417.5Z"/>
<path class="d" d="M1418.5 765.5H1420.5V767.5H1418.5Z"/>
<path class="d" d="M1419.5 758.5H1421.5V768.5H1419.5Z"/>
<path class="d" d="M1421.5 771V772M1420.5 769.5H1422.5V770.5H1420.5Z"/>
<path class="d" d="M1421.5 768.5H1423.5V772.5H1421.5Z"/>
<path class="u" d="M1423.5 769V770M1423.5 771V772M1422 770.5H1425"/>
<path class="u" d="M1423.5 768.5H1425.5V770.5H1423.5Z"/>
<path class="u" d="M1424.5 754.5H1426.5V758.5H1424.5Z"/>
<path class="d" d="M1425.5 758.5H1427.5V760.5H1425.5Z"/>
<path class="u" d="M1427.5 758V759M1426 759.5H1429"/>
<path class="u" d="M1427.5 758.5H1429.5V760.5H1427.5Z"/>
<path class="u" d="M1429.5 734V742M1428.5 742.5H1430.5V754.5H1428.5Z"/>
<path class="u" d="M1430.5 741V742M1430.5 745V746M1429.5 742.5H1431.5V744.5H1429.5Z"/>
<path class="d" d="M1430.5 740.5H1432.5V742.5H1430.5Z"/>
<path class="u" d="M1432.5 738V739M1432.5 742V743M1431.5 739.5H1433.5V741.5H1431.5Z"/>
<path class="u" d="M1433.5 736V738M1432.5 738.5H1434.5V740.5H1432.5Z"/>
<path class="d" d="M1433.5 740.5H1435.5V746.5H1433.5Z"/>
<path class="d" d="M1435.5 746V747M1435.5 750V751M1434.5 747.5H1436.5V749.5H1434.5Z"/>
<path class="d" d="M1435.5 742.5H1437.5V750.5H1435.5Z"/>
<path class="d" d="M1436.5 750.5H1438.5V756.5H1436.5Z"/>
<path class="u" d="M1438.5 754V756M1437 756.5H1440"/>
<path class="u" d="M1439.5 752.5H1441.5V754.5H1439.5Z"/>
<path class="d" d="M1440.5 748.5H1442.5V750.5H1440.5Z"/>
<path class="u" d="M1442.5 736V742M1441.5 742.5H1443.5V744.5H1441.5Z"/>
<path class="d" d="M1443.5 746V747M1442.5 747.5H1444.5V748.5H1442.5Z"/>
<path class="d" d="M1443.5 746.5H1445.5V750.5H1443.5Z"/>
<path class="u" d="M1446.5 739V740M1446.5 743V744M1445.5 740.5H1447.5V742.5H1445.5Z"/>
<path class="d" d="M1445.5 740.5H1447.5V746.5H1445.5Z"/>
<path class="u" d="M1447.5 748.5H1449.5V754.5H1447.5Z"/>
<path class="d" d="M1449.5 748V749M1448 747.5H1451"/>
<path class="d" d="M1449 744.5H1452"/>
<path class="d" d="M1451.5 739V740M1450 740.5H1453"/>
<path class="u" d="M1452.5 736V738M1451.5 738.5H1453.5V742.5H1451.5Z"/>
<path class="d" d="M1452.5 742.5H1454.5V752.5H1452.5Z"/>
<path class="d" d="M1454.5 751V752M1453 752.5H1456"/>
<path class="d" d="M1454.5 746.5H1456.5V750.5H1454.5Z"/>
<path class="d" d="M1455.5 762.5H1457.5V766.5H1455.5Z"/>
<path class="u" d="M1457.5 764.5H1459.5V765.5H1457.5Z"/>
<path class="u" d="M1458.5 758V760M1457.5 760.5H1459.5V766.5H1457.5Z"/>
<path class="u" d="M1458.5 714.5H1460.5V734.5H1458.5Z"/>
<path class="d" d="M1460.5 715V716M1460.5 719V720M1459.5 716.5H1461.5V718.5H1459.5Z"/>
<path class="d" d="M1460.5 718.5H1462.5V722.5H1460.5Z"/>
<path class="d" d="M1462.5 721V722M1461.5 722.5H1463.5V725.5H1461.5Z"/>
<path class="d" d="M1463.5 729V731M1462.5 722.5H1464.5V728.5H1462.5Z"/>
<path class="d" d="M1463.5 718.5H1465.5V722.5H1463.5Z"/>
<path class="d" d="M1465.5 706.5H1467.5V722.5H1465.5Z"/>
<path class="u" d="M1467.5 724V732M1466.5 732.5H1468.5V734.5H1466.5Z"/>
<path class="d" d="M1467 734.5H1470"/>
<path class="d" d="M1469.5 726V730M1469.5 735V737M1468.5 730.5H1470.5V734.5H1468.5Z"/>
<path class="u" d="M1470.5 732.5H1472.5V742.5H1470.5Z"/>
<path class="u" d="M1473.5 710V718M1472.5 718.5H1474.5V720.5H1472.5Z"/>
<path class="u" d="M1475.5 720.5H1477.5V728.5H1475.5Z"/>
<path class="d" d="M1477.5 710.5H1479.5V716.5H1477.5Z"/>
<path class="d" d="M1481.5 658V668M1481.5 687V691M1480.5 668.5H1482.5V686.5H1480.5Z"/>
<path class="u" d="M1482.5 636.5H1484.5V672.5H1482.5Z"/>
<path class="u" d="M1485.5 644.5H1487.5V652.5H1485.5Z"/>
<path class="u" d="M1486.5 620.5H1488.5V648.5H1486.5Z"/>
<path class="u" d="M1488.5 612.5H1490.5V618.5H1488.5Z"/>
<path class="u" d="M1491.5 574V580M1490.5 580.5H1492.5V604.5H1490.5Z"/>
<path class="d" d="M1491.5 596.5H1493.5V600.5H1491.5Z"/>
<path class="u" d="M1493.5 536.5H1495.5V580.5H1493.5Z"/>
<path class="d" d="M1496.5 605V619M1495.5 542.5H1497.5V604.5H1495.5Z"/>
<path class="u" d="M1498.5 560.5H1500.5V586.5H1498.5Z"/>
<path class="d" d="M1500.5 526V536M1499.5 536.5H1501.5V550.5H1499.5Z"/>
<path class="d" d="M1501.5 544.5H1503.5V552.5H1501.5Z"/>
<path class="d" d="M1503.5 552V568M1502.5 568.5H1504.5V570.5H1502.5Z"/>
<path class="u" d="M1504.5 576.5H1506.5V582.5H1504.5Z"/>
<path class="d" d="M1507.5 570V576M1506.5 576.5H1508.5V604.5H1506.5Z"/>
<path class="d" d="M1507.5 610.5H1509.5V642.5H1507.5Z"/>
<path class="u" d="M1510.5 610V630M1510.5 641V675M1509.5 630.5H1511.5V640.5H1509.5Z"/>
<path class="d" d="M1510.5 616.5H1512.5V634.5H1510.5Z"/>
<path class="u" d="M1513.5 608V612M1512.5 612.5H1514.5V624.5H1512.5Z"/>
<path class="d" d="M1513.5 624.5H1515.5V634.5H1513.5Z"/>
<path class="u" d="M1516.5 628V632M1516.5 637V645M1515.5 632.5H1517.5V636.5H1515.5Z"/>
<path class="u" d="M1517.5 614.5H1519.5V622.5H1517.5Z"/>
<path class="u" d="M1518.5 598.5H1520.5V616.5H1518.5Z"/>
<path class="d" d="M1521.5 590V594M1520.5 594.5H1522.5V600.5H1520.5Z"/>
<path class="d" d="M1521.5 602.5H1523.5V630.5H1521.5Z"/>
<path class="d" d="M1523.5 632.5H1525.5V652.5H1523.5Z"/>
<path class="u" d="M1526.5 626.5H1528.5V642.5H1526.5Z"/>
<path class="d" d="M1529.5 651V659M1528.5 634.5H1530.5V650.5H1528.5Z"/>
<path class="u" d="M1531.5 610.5H1533.5V642.5H1531.5Z"/>
<path class="u" d="M1532.5 612.5H1534.5V616.5H1532.5Z"/>
<path class="u" d="M1534.5 600.5H1536.5V610.5H1534.5Z"/>
<path class="u" d="M1535.5 612.5H1537.5V634.5H1535.5Z"/>
<path class="u" d="M1537.5 630.5H1539.5V640.5H1537.5Z"/>
<path class="d" d="M1539.5 632.5H1541.5V640.5H1539.5Z"/>
<path class="u" d="M1541.5 651V653M1540.5 648.5H1542.5V650.5H1540.5Z"/>
<path class="d" d="M1543.5 640V648M1542.5 648.5H1544.5V650.5H1542.5Z"/>
<path class="d" d="M1544.5 691V695M1543.5 682.5H1545.5V690.5H1543.5Z"/>
<path class="u" d="M1546.5 681V683M1545.5 676.5H1547.5V680.5H1545.5Z"/>
<path class="u" d="M1546.5 664.5H1548.5V670.5H1546.5Z"/>
<path class="u" d="M1549.5 656V658M1548.5 658.5H1550.5V662.5H1548.5Z"/>
<path class="u" d="M1551.5 648V660M1551.5 663V667M1550.5 660.5H1552.5V662.5H1550.5Z"/>
<path class="u" d="M1552.5 704V706M1551.5 706.5H1553.5V742.5H1551.5Z"/>
<path class="d" d="M1553.5 715V716M1552.5 711.5H1554.5V714.5H1552.5Z"/>
<path class="d" d="M1553.5 714.5H1555.5V720.5H1553.5Z"/>
<path class="d" d="M1555.5 721.5H1557.5V722.5H1555.5Z"/>
<path class="d" d="M1557.5 721V725M1556.5 716.5H1558.5V720.5H1556.5Z"/>
<path class="u" d="M1557.5 720.5H1559.5V721.5H1557.5Z"/>
<path class="u" d="M1558.5 710.5H1560.5V718.5H1558.5Z"/>
<path class="d" d="M1561.5 705V706M1560 706.5H1563"/>
<path class="d" d="M1562.5 702V706M1561.5 706.5H1563.5V716.5H1561.5Z"/>
<path class="u" d="M1563.5 715V716M1562.5 713.5H1564.5V714.5H1562.5Z"/>
<path class="d" d="M1563.5 708.5H1565.5V710.5H1563.5Z"/>
<path class="u" d="M1564.5 705.5H1566.5V707.5H1564.5Z"/>
<path class="u" d="M1566.5 696V700M1565.5 700.5H1567.5V704.5H1565.5Z"/>
<path class="d" d="M1566.5 705.5H1568.5V706.5H1566.5Z"/>
<path class="d" d="M1567.5 706.5H1569.5V712.5H1567.5Z"/>
<path class="d" d="M1570.5 711V712M1569 710.5H1572"/>
<path class="u" d="M1570.5 710.5H1572.5V714.5H1570.5Z"/>
<path class="d" d="M1572.5 720V721M1571.5 716.5H1573.5V719.5H1571.5Z"/>
<path class="d" d="M1572.5 710.5H1574.5V728.5H1572.5Z"/>
<path class="d" d="M1574.5 731.5H1576.5V733.5H1574.5Z"/>
<path class="d" d="M1575.5 728.5H1577.5V736.5H1575.5Z"/>
<path class="u" d="M1577.5 740V742M1577.5 747V751M1576.5 742.5H1578.5V746.5H1576.5Z"/>
<path class="d" d="M1578.5 746V747M1577 745.5H1580"/>
<path class="d" d="M1578.5 734.5H1580.5V748.5H1578.5Z"/>
<path class="d" d="M1580.5 752V753M1579.5 750.5H1581.5V751.5H1579.5Z"/>
<path class="d" d="M1581.5 759V761M1580.5 756.5H1582.5V758.5H1580.5Z"/>
<path class="u" d="M1581.5 752.5H1583.5V758.5H1581.5Z"/>
<path class="u" d="M1583.5 741V742M1582.5 742.5H1584.5V744.5H1582.5Z"/>
<path class="d" d="M1583.5 742.5H1585.5V758.5H1583.5Z"/>
<path class="u" d="M1585.5 767V771M1584.5 760.5H1586.5V766.5H1584.5Z"/>
<path class="u" d="M1586.5 757V758M1585 758.5H1588"/>
<path class="u" d="M1586.5 750.5H1588.5V753.5H1586.5Z"/>
<path class="d" d="M1588.5 748V750M1587.5 750.5H1589.5V760.5H1587.5Z"/>
<path class="d" d="M1588.5 758.5H1590.5V759.5H1588.5Z"/>
<path class="u" d="M1589.5 758.5H1591.5V760.5H1589.5Z"/>
<path class="d" d="M1591.5 764V770M1590.5 770.5H1592.5V784.5H1590.5Z"/>
<path class="d" d="M1592.5 785V786M1592.5 787V788M1591 786.5H1594"/>
<path class="u" d="M1592.5 778.5H1594.5V786.5H1592.5Z"/>
<path class="d" d="M1594.5 780V781M1593.5 781.5H1595.5V783.5H1593.5Z"/>
<path class="d" d="M1595.5 782.5H1597.5V786.5H1595.5Z"/>
<path class="u" d="M1597.5 785V786M1596.5 783.5H1598.5V784.5H1596.5Z"/>
<path class="u" d="M1597.5 780.5H1599.5V784.5H1597.5Z"/>
<path class="u" d="M1598.5 776.5H1600.5V778.5H1598.5Z"/>
<path class="d" d="M1600.5 777V778M1599 776.5H1602"/>
<path class="u" d="M1600.5 776.5H1602.5V778.5H1600.5Z"/>
<path class="u" d="M1602.5 762V764M1601.5 764.5H1603.5V776.5H1601.5Z"/>
<path class="d" d="M1604.5 764V765M1603 765.5H1606"/>
<path class="d" d="M1604.5 764.5H1606.5V766.5H1604.5Z"/>
<path class="u" d="M1606.5 764V765M1605.5 762.5H1607.5V763.5H1605.5Z"/>
<path class="u" d="M1607.5 760.5H1609.5V764.5H1607.5Z"/>
<path class="d" d="M1609.5 765V766M1608 764.5H1611"/>
<path class="d" d="M1609.5 764.5H1611.5V766.5H1609.5Z"/>
<path class="d" d="M1610 767.5H1613"/>
<path class="d" d="M1611 766.5H1614"/>
<path class="d" d="M1612.5 770.5H1614.5V780.5H1612.5Z"/>
<path class="d" d="M1614.5 780V781M1613.5 781.5H1615.5V782.5H1613.5Z"/>
<path class="u" d="M1614.5 782.5H1616.5V786.5H1614.5Z"/>
<path class="u" d="M1616.5 780V781M1616.5 782V783M1615 781.5H1618"/>
<path class="u" d="M1616.5 776.5H1618.5V780.5H1616.5Z"/>
<path class="d" d="M1618.5 780V781M1617 781.5H1620"/>
<path class="d" d="M1619.5 783V784M1618.5 784.5H1620.5V785.5H1618.5Z"/>
<path class="d" d="M1619.5 782.5H1621.5V788.5H1619.5Z"/>
<path class="d" d="M1621.5 793V794M1620.5 790.5H1622.5V792.5H1620.5Z"/>
<path class="u" d="M1622.5 800.5H1624.5V804.5H1622.5Z"/>
<path class="d" d="M1623.5 798.5H1625.5V804.5H1623.5Z"/>
<path class="d" d="M1625.5 809V810M1624.5 807.5H1626.5V808.5H1624.5Z"/>
<path class="u" d="M1625.5 794.5H1627.5V810.5H1625.5Z"/>
<path class="d" d="M1626 799.5H1629"/>
<path class="d" d="M1627.5 796.5H1629.5V804.5H1627.5Z"/>
<path class="d" d="M1629.5 797V798M1628 796.5H1631"/>
<path class="u" d="M1629.5 792.5H1631.5V795.5H1629.5Z"/>
<path class="d" d="M1631.5 790V792M1630.5 792.5H1632.5V796.5H1630.5Z"/>
<path class="d" d="M1631 797.5H1634"/>
<path class="d" d="M1632.5 798.5H1634.5V799.5H1632.5Z"/>
<path class="d" d="M1633.5 798.5H1635.5V800.5H1633.5Z"/>
<path class="u" d="M1635.5 799V800M1634.5 797.5H1636.5V798.5H1634.5Z"/>
<path class="u" d="M1636.5 791V792M1635.5 792.5H1637.5V793.5H1635.5Z"/>
<path class="u" d="M1636.5 790.5H1638.5V798.5H1636.5Z"/>
<path class="d" d="M1638.5 783V784M1637 784.5H1640"/>
<path class="u" d="M1638.5 782.5H1640.5V784.5H1638.5Z"/>
<path class="d" d="M1639.5 784.5H1641.5V786.5H1639.5Z"/>
<path class="u" d="M1641.5 784.5H1643.5V788.5H1641.5Z"/>
<path class="u" d="M1643.5 788V790M1643.5 793V795M1642.5 790.5H1644.5V792.5H1642.5Z"/>
<path class="d" d="M1644.5 794V795M1643 793.5H1646"/>
<path class="d" d="M1644.5 794.5H1646.5V796.5H1644.5Z"/>
<path class="d" d="M1646.5 796.5H1648.5V798.5H1646.5Z"/>
<path class="u" d="M1647.5 797.5H1649.5V799.5H1647.5Z"/>
<path class="d" d="M1647.5 796.5H1649.5V798.5H1647.5Z"/>
<path class="d" d="M1649.5 800V801M1648.5 798.5H1650.5V799.5H1648.5Z"/>
<path class="d" d="M1649.5 802.5H1651.5V804.5H1649.5Z"/>
<path class="d" d="M1651.5 806V807M1650.5 804.5H1652.5V805.5H1650.5Z"/>
<path class="d" d="M1652.5 804.5H1654.5V808.5H1652.5Z"/>
<path class="u" d="M1654.5 790V792M1653.5 792.5H1655.5V800.5H1653.5Z"/>
<path class="u" d="M1654.5 781.5H1656.5V787.5H1654.5Z"/>
<path class="u" d="M1656.5 770V774M1656.5 777V779M1655.5 774.5H1657.5V776.5H1655.5Z"/>
<path class="d" d="M1656.5 762.5H1658.5V766.5H1656.5Z"/>
<path class="d" d="M1658.5 768V769M1658.5 771V772M1657.5 769.5H1659.5V770.5H1657.5Z"/>
<path class="u" d="M1658.5 758.5H1660.5V770.5H1658.5Z"/>
<path class="d" d="M1659.5 762.5H1661.5V763.5H1659.5Z"/>
<path class="d" d="M1660.5 764.5H1662.5V770.5H1660.5Z"/>
<path class="d" d="M1661.5 770.5H1663.5V778.5H1661.5Z"/>
<path class="d" d="M1664.5 786V787M1663.5 787.5H1665.5V788.5H1663.5Z"/>
<path class="u" d="M1664.5 782.5H1666.5V788.5H1664.5Z"/>
<path class="d" d="M1665.5 783.5H1667.5V784.5H1665.5Z"/>
<path class="d" d="M1666.5 782.5H1668.5V786.5H1666.5Z"/>
<path class="d" d="M1667.5 774.5H1669.5V782.5H1667.5Z"/>
<path class="u" d="M1669.5 778V779M1668 779.5H1671"/>
<path class="d" d="M1669.5 772.5H1671.5V776.5H1669.5Z"/>
<path class="d" d="M1671.5 767V768M1671.5 769V770M1670 768.5H1673"/>
<path class="d" d="M1671.5 768.5H1673.5V780.5H1671.5Z"/>
<path class="u" d="M1672.5 778.5H1674.5V779.5H1672.5Z"/>
<path class="u" d="M1673.5 774.5H1675.5V778.5H1673.5Z"/>
<path class="u" d="M1676.5 764V766M1675.5 766.5H1677.5V772.5H1675.5Z"/>
<path class="d" d="M1676 769.5H1679"/>
<path class="d" d="M1677.5 770.5H1679.5V772.5H1677.5Z"/>
<path class="u" d="M1678.5 776.5H1680.5V780.5H1678.5Z"/>
<path class="u" d="M1680.5 770V771M1679.5 771.5H1681.5V774.5H1679.5Z"/>
<path class="u" d="M1681.5 764V768M1680.5 768.5H1682.5V776.5H1680.5Z"/>
<path class="d" d="M1682.5 767V768M1681 768.5H1684"/>
<path class="d" d="M1683.5 766V768M1682.5 768.5H1684.5V780.5H1682.5Z"/>
<path class="u" d="M1684.5 780V781M1683 779.5H1686"/>
<path class="d" d="M1685.5 779V780M1685.5 781V782M1684 780.5H1687"/>
<path class="u" d="M1685.5 780.5H1687.5V782.5H1685.5Z"/>
<path class="u" d="M1686.5 736.5H1688.5V762.5H1686.5Z"/>
<path class="d" d="M1688.5 736V737M1688.5 738V739M1687 737.5H1690"/>
<path class="d" d="M1689.5 732V736M1688.5 736.5H1690.5V742.5H1688.5Z"/>
<path class="d" d="M1689.5 740.5H1691.5V746.5H1689.5Z"/>
<path class="d" d="M1691.5 745V747M1691.5 761V762M1690.5 747.5H1692.5V760.5H1690.5Z"/>
<path class="u" d="M1691.5 752.5H1693.5V760.5H1691.5Z"/>
<path class="d" d="M1693.5 745V747M1692 747.5H1695"/>
<path class="u" d="M1693.5 744.5H1695.5V746.5H1693.5Z"/>
<path class="d" d="M1694.5 746.5H1696.5V754.5H1694.5Z"/>
<path class="d" d="M1696.5 757V758M1695.5 755.5H1697.5V756.5H1695.5Z"/>
<path class="d" d="M1697.5 744V748M1696.5 748.5H1698.5V756.5H1696.5Z"/>
<path class="d" d="M1699.5 757V758M1698 758.5H1701"/>
<path class="d" d="M1700.5 744V750M1699.5 750.5H1701.5V762.5H1699.5Z"/>
<path class="u" d="M1702.5 777V781M1701.5 770.5H1703.5V776.5H1701.5Z"/>
<path class="u" d="M1702.5 760.5H1704.5V766.5H1702.5Z"/>
<path class="d" d="M1704.5 763V764M1703.5 761.5H1705.5V762.5H1703.5Z"/>
<path class="d" d="M1705.5 758.5H1707.5V766.5H1705.5Z"/>
<path class="d" d="M1707.5 763V764M1706.5 764.5H1708.5V766.5H1706.5Z"/>
<path class="u" d="M1707 764.5H1710"/>
<path class="d" d="M1709.5 754V758M1708.5 758.5H1710.5V764.5H1708.5Z"/>
<path class="u" d="M1709.5 763.5H1711.5V765.5H1709.5Z"/>
<path class="d" d="M1710.5 760.5H1712.5V764.5H1710.5Z"/>
<path class="d" d="M1711.5 769.5H1713.5V771.5H1711.5Z"/>
<path class="u" d="M1712.5 756.5H1714.5V770.5H1712.5Z"/>
<path class="u" d="M1714.5 746V750M1713.5 750.5H1715.5V754.5H1713.5Z"/>
<path class="d" d="M1714.5 755.5H1716.5V758.5H1714.5Z"/>
<path class="d" d="M1715.5 752.5H1717.5V764.5H1715.5Z"/>
<path class="d" d="M1717.5 760V761M1716 759.5H1719"/>
<path class="u" d="M1718.5 748.5H1720.5V754.5H1718.5Z"/>
<path class="u" d="M1719.5 736.5H1721.5V750.5H1719.5Z"/>
<path class="d" d="M1720 736.5H1723"/>
<path class="u" d="M1721.5 736.5H1723.5V738.5H1721.5Z"/>
<path class="u" d="M1722.5 733.5H1724.5V735.5H1722.5Z"/>
<path class="u" d="M1723.5 724.5H1725.5V734.5H1723.5Z"/>
<path class="u" d="M1725.5 710V720M1724.5 720.5H1726.5V730.5H1724.5Z"/>
<path class="u" d="M1726.5 720V721M1725.5 718.5H1727.5V719.5H1725.5Z"/>
<path class="d" d="M1727.5 719V721M1726 718.5H1729"/>
<path class="d" d="M1728.5 716V718M1728.5 721V725M1727.5 718.5H1729.5V720.5H1727.5Z"/>
<path class="d" d="M1729.5 720V721M1729.5 724V725M1728.5 721.5H1730.5V723.5H1728.5Z"/>
<path class="u" d="M1729.5 724.5H1731.5V726.5H1729.5Z"/>
<path class="u" d="M1731.5 686V700M1730.5 700.5H1732.5V702.5H1730.5Z"/>
<path class="u" d="M1731.5 686.5H1733.5V689.5H1731.5Z"/>
<path class="u" d="M1733.5 672V686M1732.5 686.5H1734.5V692.5H1732.5Z"/>
<path class="d" d="M1734.5 691V692M1734.5 694V696M1733.5 692.5H1735.5V693.5H1733.5Z"/>
<path class="d" d="M1735.5 693V694M1734.5 694.5H1736.5V696.5H1734.5Z"/>
<path class="d" d="M1736.5 701V705M1735.5 688.5H1737.5V700.5H1735.5Z"/>
<path class="d" d="M1737.5 701V702M1737.5 703V704M1736 702.5H1739"/>
<path class="d" d="M1738.5 701V703M1737.5 703.5H1739.5V705.5H1737.5Z"/>
<path class="u" d="M1739.5 690V698M1738.5 698.5H1740.5V706.5H1738.5Z"/>
<path class="u" d="M1740.5 684V685M1739.5 682.5H1741.5V683.5H1739.5Z"/>
<path class="d" d="M1741.5 678V682M1740.5 682.5H1742.5V692.5H1740.5Z"/>
<path class="d" d="M1741 696.5H1744"/>
<path class="d" d="M1743.5 699V700M1743.5 704V705M1742.5 700.5H1744.5V703.5H1742.5Z"/>
<path class="d" d="M1743.5 692.5H1745.5V706.5H1743.5Z"/>
<path class="d" d="M1745.5 709V710M1744 708.5H1747"/>
<path class="d" d="M1745.5 698.5H1747.5V710.5H1745.5Z"/>
<path class="u" d="M1747.5 715V717M1746.5 710.5H1748.5V714.5H1746.5Z"/>
<path class="u" d="M1748.5 705V706M1747.5 706.5H1749.5V710.5H1747.5Z"/>
<path class="d" d="M1749.5 704V706M1748.5 706.5H1750.5V714.5H1748.5Z"/>
<path class="d" d="M1750.5 713V714M1749 712.5H1752"/>
<path class="u" d="M1751.5 708V709M1751.5 713V714M1750.5 709.5H1752.5V712.5H1750.5Z"/>
<path class="u" d="M1751.5 698.5H1753.5V708.5H1751.5Z"/>
<path class="u" d="M1753.5 693V695M1752.5 682.5H1754.5V692.5H1752.5Z"/>
<path class="u" d="M1754.5 678V679M1753.5 679.5H1755.5V680.5H1753.5Z"/>
<path class="u" d="M1755.5 668V676M1754.5 676.5H1756.5V678.5H1754.5Z"/>
<path class="u" d="M1756.5 672V673M1755.5 669.5H1757.5V671.5H1755.5Z"/>
<path class="u" d="M1757.5 658V662M1756.5 662.5H1758.5V684.5H1756.5Z"/>
<path class="d" d="M1757.5 660.5H1759.5V662.5H1757.5Z"/>
<path class="u" d="M1758.5 659.5H1760.5V661.5H1758.5Z"/>
<path class="d" d="M1759.5 660.5H1761.5V684.5H1759.5Z"/>
<path class="d" d="M1761.5 691V693M1760.5 680.5H1762.5V690.5H1760.5Z"/>
<path class="d" d="M1762.5 692V693M1761.5 689.5H1763.5V691.5H1761.5Z"/>
<path class="u" d="M1762.5 688.5H1764.5V694.5H1762.5Z"/>
<path class="d" d="M1763.5 696.5H1765.5V702.5H1763.5Z"/>
<path class="u" d="M1765.5 700V701M1764 699.5H1767"/>
<path class="u" d="M1765.5 692.5H1767.5V700.5H1765.5Z"/>
<path class="d" d="M1767.5 690.5H1769.5V698.5H1767.5Z"/>
<path class="u" d="M1768.5 670.5H1770.5V692.5H1768.5Z"/>
<path class="d" d="M1770.5 685V686M1769.5 676.5H1771.5V684.5H1769.5Z"/>
<path class="d" d="M1770.5 684.5H1772.5V704.5H1770.5Z"/>
<path class="u" d="M1772.5 707V709M1771.5 704.5H1773.5V706.5H1771.5Z"/>
<path class="u" d="M1772.5 704.5H1774.5V707.5H1772.5Z"/>
<path class="u" d="M1774.5 699V701M1773.5 701.5H1775.5V704.5H1773.5Z"/>
<path class="d" d="M1774.5 700.5H1776.5V706.5H1774.5Z"/>
<path class="d" d="M1775.5 706.5H1777.5V709.5H1775.5Z"/>
<path class="d" d="M1776.5 704.5H1778.5V712.5H1776.5Z"/>
<path class="d" d="M1778.5 711V713M1777.5 713.5H1779.5V715.5H1777.5Z"/>
<path class="d" d="M1779.5 712V714M1778.5 714.5H1780.5V716.5H1778.5Z"/>
<path class="d" d="M1779.5 712.5H1781.5V714.5H1779.5Z"/>
<path class="u" d="M1781.5 708.5H1783.5V712.5H1781.5Z"/>
<path class="d" d="M1782.5 712.5H1784.5V718.5H1782.5Z"/>
<path class="d" d="M1784.5 718V719M1783 717.5H1786"/>
<path class="u" d="M1784.5 715.5H1786.5V716.5H1784.5Z"/>
<path class="u" d="M1786.5 706V712M1785.5 712.5H1787.5V716.5H1785.5Z"/>
<path class="d" d="M1787.5 710V711M1787.5 712V713M1786 711.5H1789"/>
<path class="u" d="M1788.5 704V710M1787.5 710.5H1789.5V714.5H1787.5Z"/>
<path class="u" d="M1789.5 708.5H1791.5V710.5H1789.5Z"/>
<path class="d" d="M1791.5 702V704M1790.5 704.5H1792.5V706.5H1790.5Z"/>
<path class="u" d="M1792.5 698.5H1794.5V702.5H1792.5Z"/>
<path class="d" d="M1793.5 712.5H1795.5V720.5H1793.5Z"/>
<path class="u" d="M1795.5 718.5H1797.5V720.5H1795.5Z"/>
<path class="d" d="M1796 716.5H1799"/>
<path class="d" d="M1799.5 711V713M1798.5 708.5H1800.5V710.5H1798.5Z"/>
<path class="d" d="M1801.5 714V716M1800.5 716.5H1802.5V718.5H1800.5Z"/>
</g>
<g shape-rendering="crispEdges" fill="none" stroke="#008000" stroke-width="1"><path d="M488 713.5H520M520 712.5H582M582 711.5H645M645 710.5H708M708 709.5H770M770 708.5H832M832 707.5H895M895 706.5H958M958 705.5H1020M1020 704.5H1082M1082 703.5H1145M1145 702.5H1176"/><path d="M488 835.5H520M520 834.5H582M582 833.5H645M645 832.5H708M708 831.5H770M770 830.5H832M832 829.5H895M895 828.5H958M958 827.5H1020M1020 826.5H1082M1082 825.5H1145M1145 824.5H1176"/></g>
<rect x="815" y="848" width="40" height="11" fill="#fff"/><rect x="1181" y="873" width="40" height="11" fill="#fff"/><rect x="1547" y="899" width="40" height="11" fill="#fff"/>
<text x="816.2" y="858.6" fill="#000">80.000</text>
<text x="1182" y="883.9" fill="#000">50.000</text>
<text x="1548.3" y="909.7" fill="#000">20.000</text>
<g shape-rendering="crispEdges" fill="none">
<path d="M5 860.5H1837M5 885.5H1837M5 911.5H1837" stroke="#000"/>
</g>
<g fill="none" stroke-width="1" stroke-linejoin="round" shape-rendering="crispEdges">
<polyline points="28.8,866.0 30.0,858.0 31.6,860.4 40.5,889.5 46.8,858.8 50.0,851.0 54.4,858.8 59.0,892.9 60.7,900.2 64.3,905.0 65.9,903.4 70.1,912.4 72.8,910.8 76.5,907.0 81.8,882.3 85.4,873.3 88.1,884.4 91.8,904.0 93.4,905.0 95.5,903.4 102.3,917.6 105.5,911.3 110.8,897.0 115.0,886.0 120.8,857.5 122.9,859.6 125.0,869.6 130.8,909.7 134.5,922.4 136.6,919.7 140.3,895.0 147.2,855.4 154.5,847.5 159.3,845.2 165.1,853.8 169.8,873.9 174.1,893.9 175.6,892.9 180.4,904.5 184.6,862.3 187.6,856.5 188.8,867.5 195.3,915.5 196.9,913.4 203.2,896.5 205.8,900.2 209.5,917.1 211.1,911.8 216.4,880.2 220.6,856.5 224.3,846.4 226.9,853.8 230.6,881.2 235.4,874.9 238.5,857.5 241.7,863.3 243.8,861.7 247.5,888.6 252.2,906.0 253.8,895.0 255.9,891.8 260.7,888.6 264.4,890.7 268.1,910.8 271.2,921.3 275.4,916.6 280.7,908.1 283.9,899.2 286.5,881.2 288.1,880.2 290.2,890.7 295.5,910.8 301.3,921.3 305.0,918.7 308.7,906.6 312.4,869.6 315.0,858.6 317.1,866.5 322.9,876.5 327.1,904.5 330.3,915.5 333.5,911.8 335.0,907.6 337.2,908.7 338.7,905.5 340.3,908.1 341.9,915.5 346.6,919.2 354.6,911.8 357.7,895.0 360.9,870.2 362.5,868.6 364.6,884.4 371.4,909.7 376.2,920.3 379.9,907.6 383.2,883.4 386.9,873.3 389.0,880.2 393.7,903.4 398.5,910.8 401.6,903.4 403.7,878.0 405.8,859.0 408.0,853.8 409.5,851.2 411.1,853.8 413.2,850.1 415.3,850.7 417.4,855.9 419.6,858.0 422.7,872.8 426.4,901.3 428.0,915.0 430.4,925.6 432.2,921.9 435.4,920.3 437.5,917.6 439.1,918.7 441.2,915.5 443.3,918.2 446.5,919.2 448.6,925.0 450.5,925.0 452.8,917.6 457.5,909.2 458.6,910.3 459.6,918.2 463.3,916.1 466.0,909.7 468.1,903.4 471.2,898.1 474.9,881.2 477.0,880.2 479.2,874.9 481.3,881.2 483.9,884.4 486.0,880.7 489.7,887.6 491.8,897.1 494.5,911.8 496.0,911.3 497.6,914.5 500.3,907.6 503.4,883.4 506.1,869.6 508.7,856.5 511.3,860.7 513.4,869.6 516.1,884.4 519.2,891.3 521.4,882.3 524.0,866.5 528.2,862.8 531.9,857.0 533.5,852.2 535.6,852.2 537.7,859.0 540.3,859.6 541.9,870.7 544.6,860.7 546.7,858.6 547.7,861.7 549.8,852.2 551.4,855.9 554.1,857.5 558.3,859.6 561.4,863.8 564.1,880.2 566.7,903.4 569.3,924.5 572.5,921.3 574.6,918.7 577.3,917.6 579.5,917.1 583.2,914.0 585.3,907.6 587.4,908.1 591.1,903.4 593.2,892.9 596.4,886.0 599.0,893.9 601.6,914.0 603.8,916.6 607.4,911.8 610.6,888.6 613.2,869.6 616.4,858.0 619.6,852.2 621.5,849.1 623.6,851.7 624.9,864.4 628.0,888.6 629.6,901.3 631.2,904.5 633.8,890.7 635.6,879.1 637.5,877.6 640.1,877.6 643.8,870.7 646.5,857.0 649.1,853.3 650.7,854.4 652.8,858.0 654.4,856.5 657.0,861.2 659.1,889.7 661.2,901.3 663.4,910.8 666.0,902.3 668.1,899.2 670.2,898.1 673.9,905.0 678.6,906.6 681.8,900.2 684.5,883.4 687.1,859.0 689.2,855.4 691.8,859.6 694.5,868.6 698.2,880.2 701.3,899.2 703.4,914.0 706.6,920.3 709.2,918.7 712.9,920.8 715.0,922.4 717.2,920.3 718.7,905.5 720.8,880.2 722.4,865.4 724.5,858.0 726.6,859.1 728.2,854.4 731.4,850.4 733.5,851.2 736.1,862.3 741.4,870.2 744.1,868.0 746.2,862.8 748.3,880.2 749.9,887.0 753.5,890.7 757.2,887.0 759.9,890.7 762.5,908.7 764.4,913.2 767.0,907.6 770.0,883.4 772.7,861.2 774.8,863.8 777.4,872.8 780.6,897.0 785.3,914.0 786.9,911.8 791.6,921.3 794.3,911.8 796.9,897.0 801.7,878.0 804.3,873.3 807.5,870.7 808.5,880.2 811.7,899.2 815.4,907.1 818.5,887.6 823.3,872.3 825.4,872.8 830.1,877.0 832.8,871.7 834.9,874.4 836.5,897.0 839.1,915.0 841.0,923.4 843.3,918.2 847.0,914.0 849.7,912.9 851.8,910.8 852.8,911.8 857.6,906.6 858.1,909.7 861.3,902.3 865.5,887.6 867.6,881.8 870.2,881.8 870.8,887.6 875.0,910.8 878.1,902.3 882.4,889.7 884.5,897.0 890.3,916.1 892.9,916.1 897.1,897.0 901.9,874.9 905.6,858.0 908.2,853.3 909.8,857.5 912.4,868.6 917.2,871.2 920.3,864.9 922.4,864.4 924.0,871.7 926.7,881.2 931.4,878.6 934.6,866.0 937.7,863.3 940.9,868.6 945.7,891.8 948.8,873.9 952.5,870.7 954.6,883.4 956.5,897.6 959.0,899.2 961.6,898.7 964.2,889.7 966.9,900.2 969.5,914.0 972.2,925.0 975.3,922.9 977.4,922.4 980.1,918.7 983.8,916.6 986.9,911.8 988.5,912.9 990.6,910.8 992.2,905.5 993.8,909.7 999.6,904.5 1001.7,890.7 1003.8,876.0 1005.4,873.9 1007.5,876.0 1010.1,887.6 1013.3,906.0 1015.9,897.0 1019.1,889.7 1021.7,889.7 1022.8,897.0 1025.9,908.7 1029.1,918.2 1032.3,924.0 1035.4,920.3 1040.2,910.8 1042.3,899.2 1044.4,881.2 1046.0,878.6 1048.6,885.5 1051.3,889.2 1053.9,876.0 1056.0,859.1 1058.6,850.7 1060.2,850.7 1062.3,854.9 1065.5,855.9 1067.1,861.7 1069.2,863.8 1072.4,877.0 1074.5,884.4 1076.6,877.0 1079.2,862.3 1082.4,854.4 1084.5,859.1 1088.2,865.4 1091.4,872.8 1094.0,875.4 1095.6,874.4 1097.2,881.2 1098.7,883.4 1101.4,877.6 1103.0,888.6 1107.7,900.2 1109.8,900.2 1111.4,878.1 1113.5,857.5 1115.6,854.4 1117.2,857.0 1118.8,868.6 1121.4,887.6 1124.6,912.4 1127.2,911.8 1130.4,900.2 1134.1,876.0 1136.7,873.3 1139.3,878.1 1142.6,909.7 1145.3,914.5 1147.9,901.3 1151.6,884.4 1154.8,871.8 1158.5,860.2 1160.6,857.5 1162.4,847.5 1164.3,850.7 1167.4,847.5 1169.5,849.1 1172.2,849.6 1173.8,857.0 1176.9,861.7 1180.6,864.4 1183.2,862.8 1186.4,857.5 1189.4,853.8 1192.7,857.5 1195.4,863.3 1198.0,874.9 1201.2,890.7 1204.3,908.7 1206.5,912.4 1208.6,905.5 1211.7,890.7 1214.9,881.2 1217.5,876.5 1219.1,882.3 1222.3,901.3 1226.0,910.8 1228.6,918.2 1231.2,925.6 1236.5,922.9 1239.2,911.8 1241.3,906.6 1242.8,895.0 1246.5,881.2 1249.7,893.9 1253.4,902.3 1257.6,891.8 1261.3,904.5 1263.9,899.2 1266.6,892.9 1268.2,869.6 1269.5,857.5 1271.9,854.9 1275.0,849.6 1279.2,849.4 1280.8,848.3 1282.4,851.7 1283.5,863.3 1286.1,866.5 1289.8,878.1 1292.4,885.5 1294.5,903.4 1296.6,903.4 1299.3,889.7 1303.0,883.9 1304.6,882.3 1306.1,885.5 1307.7,898.1 1313.0,910.8 1315.6,907.6 1319.6,917.6 1323.5,906.6 1327.8,891.8 1332.8,878.6 1335.8,874.9 1337.9,877.6 1339.5,890.7 1341.6,910.8 1343.7,914.5 1346.9,908.1 1351.1,904.5 1352.7,911.8 1354.5,918.7 1356.9,910.8 1360.6,898.1 1364.8,885.5 1368.5,869.6 1371.7,865.4 1373.8,858.0 1375.9,857.5 1378.0,864.4 1380.6,887.6 1382.7,909.7 1384.6,918.7 1385.9,912.9 1388.0,906.6 1390.7,892.9 1394.3,874.9 1396.5,857.0 1400.5,848.5 1402.8,858.0 1404.9,871.8 1407.5,881.2 1409.1,876.5 1411.8,874.4 1414.4,861.2 1417.0,857.5 1418.6,864.4 1421.8,888.6 1423.9,904.5 1425.5,906.6 1427.6,898.1 1429.7,878.1 1431.8,869.1 1435.0,862.3 1436.5,864.4 1439.7,880.2 1444.5,894.4 1446.6,882.3 1449.7,879.1 1452.4,871.2 1452.9,877.0 1455.5,885.5 1458.2,903.4 1459.2,890.7 1461.3,876.0 1463.4,871.8 1466.1,855.4 1467.7,859.1 1469.8,869.6 1472.4,876.0 1475.6,877.6 1477.7,874.4 1481.4,866.0 1483.5,858.0 1487.7,853.8 1489.8,848.0 1492.4,850.7 1494.6,848.0 1496.7,851.7 1498.8,862.8 1504.0,871.8 1506.2,870.7 1508.3,890.7 1510.9,905.5 1513.5,906.6 1516.7,899.2 1519.9,885.5 1522.1,877.0 1524.2,877.0 1525.8,887.6 1528.4,900.2 1530.5,910.8 1533.2,892.9 1536.4,874.9 1538.8,871.5 1540.6,880.2 1542.7,897.1 1544.8,911.8 1546.4,915.5 1549.5,909.7 1552.2,901.3 1554.8,899.2 1556.9,901.3 1560.6,903.4 1564.3,899.2 1567.5,885.5 1571.5,873.9 1573.3,884.4 1575.4,903.4 1577.5,911.8 1580.1,917.1 1583.3,916.6 1585.4,919.2 1589.1,913.4 1591.7,910.8 1593.8,911.8 1595.9,918.2 1598.4,921.3 1601.2,911.8 1603.3,897.1 1606.0,880.2 1608.1,858.0 1609.7,853.3 1611.8,854.4 1613.4,865.4 1615.5,882.3 1618.1,899.2 1620.7,910.8 1622.3,910.8 1624.4,915.5 1627.6,910.8 1630.8,904.5 1632.9,897.1 1635.0,895.0 1637.6,880.2 1640.8,864.4 1642.6,858.0 1644.5,866.5 1646.6,884.4 1649.7,900.2 1653.1,921.3 1654.5,914.0 1656.6,888.6 1659.2,866.5 1661.6,857.5 1664.0,863.3 1667.7,880.2 1673.0,896.0 1676.1,880.2 1679.3,871.8 1681.4,869.6 1683.5,878.1 1686.1,898.1 1687.2,879.1 1689.8,869.6 1694.6,861.2 1696.7,868.6 1700.4,880.2 1703.4,892.9 1706.3,900.5 1709.0,890.7 1710.2,887.0 1712.3,887.6 1714.4,876.0 1717.1,874.9 1720.6,862.3 1722.7,860.7 1725.3,848.9 1727.4,851.7 1730.6,858.0 1733.8,860.2 1736.4,866.0 1739.6,873.9 1743.2,881.2 1746.4,895.0 1749.1,909.7 1750.4,916.6 1751.7,910.8 1753.8,886.5 1755.9,874.9 1758.5,856.5 1760.1,856.8 1761.7,866.5 1764.3,886.5 1767.0,900.2 1768.6,902.9 1769.1,899.2 1771.2,906.6 1774.9,910.8 1777.5,922.4 1783.3,921.9 1787.6,911.8 1790.7,905.5 1791.8,886.5 1793.4,875.4 1794.9,884.4 1798.1,895.0 1801.8,908.7" stroke="#000"/>
<polyline points="30.0,869.5 31.5,865.0 32.9,861.3 34.5,863.5 36.0,866.5 38.3,872.8 39.8,877.6 41.2,881.2 42.7,882.4 44.1,881.3 45.6,877.8 47.0,872.1 48.5,865.8 49.9,860.2 51.4,856.5 52.8,854.7 54.3,854.8 55.7,857.5 57.2,863.1 58.6,870.4 60.1,878.7 61.5,887.2 63.0,894.2 64.4,899.3 65.9,902.0 67.3,903.8 68.8,905.5 70.2,907.3 71.7,908.6 73.1,910.0 74.6,910.6 76.0,910.2 77.5,908.2 78.9,905.1 80.4,900.8 81.8,895.5 83.3,889.7 84.7,884.2 86.2,880.3 87.6,879.0 89.1,880.4 90.5,884.1 92.0,889.9 93.4,895.6 94.9,899.9 96.3,903.0 97.8,905.2 99.2,906.6 100.7,908.5 102.1,911.1 103.6,913.1 105.0,914.0 106.5,913.5 107.9,911.6 109.4,908.4 110.8,904.8 112.3,900.9 113.7,897.1 115.2,893.2 116.6,888.6 118.1,883.4 119.5,877.5 121.0,871.2 122.4,866.0 123.9,863.2 125.3,863.3 126.8,866.8 128.2,873.7 129.7,882.2 131.1,891.5 132.6,900.3 134.0,908.1 135.5,914.0 136.9,917.2 138.4,916.7 139.8,913.2 141.3,907.0 142.7,899.0 144.2,890.0 145.6,881.3 147.1,872.9 148.5,865.8 150.0,860.0 151.4,855.6 152.8,852.6 154.3,850.9 155.7,849.4 157.2,848.2 158.6,847.1 160.1,846.5 161.5,846.7 163.0,847.5 164.4,848.8 165.9,851.1 167.3,854.5 168.8,858.8 170.2,863.8 171.7,869.8 173.1,876.3 174.6,882.3 176.0,887.2 177.5,891.5 178.9,895.1 180.4,898.1 181.8,897.4 183.3,893.7 184.7,886.6 186.2,878.2 187.6,868.7 189.1,864.7 190.5,865.7 192.0,871.5 193.4,880.0 194.9,891.1 196.3,900.0 197.8,906.1 199.2,909.3 200.7,909.6 202.1,906.9 203.6,903.5 205.0,901.2 206.5,900.4 207.9,901.8 209.4,905.3 210.8,908.4 212.3,909.5 213.7,908.0 215.2,903.5 216.6,895.9 218.1,887.5 219.5,879.0 221.0,870.9 222.4,863.7 223.9,857.5 225.3,853.2 226.8,851.5 228.2,853.1 229.7,857.7 231.1,864.3 232.6,870.2 234.0,874.8 235.5,876.9 236.9,875.3 238.4,870.8 239.8,867.0 241.3,864.2 242.7,861.9 244.2,861.5 245.6,865.0 247.1,870.1 248.5,876.1 250.0,883.2 251.4,890.9 252.9,896.1 254.3,897.8 255.8,897.7 257.2,896.3 258.7,893.6 260.1,891.2 261.6,890.2 263.0,889.8 264.5,889.8 265.9,891.7 267.4,895.3 268.8,900.1 270.3,905.8 271.7,911.7 273.2,915.7 274.6,917.8 276.1,918.2 277.5,917.2 279.0,915.2 280.4,913.1 281.9,910.5 283.3,907.6 284.8,903.6 286.2,898.0 287.7,892.4 289.1,888.5 290.6,886.8 292.0,887.8 293.5,891.8 294.9,897.5 296.4,902.9 297.8,907.4 299.3,911.4 300.7,914.8 302.2,917.2 303.6,918.7 305.1,919.3 306.5,918.5 308.0,916.2 309.4,911.9 310.9,904.9 312.3,895.3 313.8,885.3 315.2,875.4 316.7,868.6 318.1,865.3 319.6,865.5 321.0,867.4 322.5,870.6 323.9,874.3 325.4,879.3 326.8,885.7 328.3,892.8 329.7,900.3 331.2,906.5 332.6,910.5 334.1,911.9 335.5,911.8 337.0,910.8 338.4,909.1 339.9,908.0 341.3,908.6 342.8,910.2 344.2,912.0 345.7,914.5 347.1,916.7 348.6,917.6 350.0,917.6 351.5,917.0 352.9,916.0 354.4,914.7 355.8,912.2 357.3,908.4 358.7,902.9 360.2,895.3 361.6,886.8 363.1,880.4 364.5,877.8 366.0,878.4 367.4,882.2 368.9,888.4 370.3,895.0 371.8,900.3 373.2,905.1 374.7,909.5 376.1,913.5 377.6,915.4 379.0,915.4 380.5,913.3 381.9,908.4 383.4,900.9 384.8,893.6 386.3,886.5 387.7,881.1 389.2,878.8 390.6,879.9 392.1,883.2 393.5,888.8 395.0,894.6 396.4,899.9 397.9,904.2 399.3,906.9 400.8,907.4 402.2,905.4 403.7,899.5 405.1,890.5 406.6,880.2 408.0,869.8 409.5,861.0 410.9,856.1 412.4,853.4 413.8,852.1 415.3,851.5 416.7,852.1 418.2,852.7 419.6,854.0 421.1,857.0 422.5,861.3 424.0,867.0 425.4,874.5 426.9,883.9 428.3,894.2 429.8,904.4 431.2,912.6 432.7,918.1 434.1,921.2 435.6,921.9 437.0,920.9 438.5,919.8 439.9,919.0 441.4,917.9 442.8,917.4 444.3,917.5 445.7,917.7 447.2,918.4 448.6,920.2 450.1,921.7 451.5,922.3 453.0,922.0 454.4,920.7 455.9,918.1 457.3,915.0 458.8,913.1 460.2,913.2 461.7,913.6 463.1,914.5 464.6,915.2 466.0,914.7 467.5,912.2 468.9,909.2 470.4,905.8 471.8,902.3 473.3,898.1 474.7,893.4 476.2,889.1 477.6,884.9 479.1,880.9 480.5,879.0 482.0,879.1 483.4,879.7 484.9,880.5 486.3,881.8 487.8,882.8 489.2,883.7 490.7,885.4 492.1,888.7 493.6,893.8 495.0,899.3 496.5,904.4 497.9,908.7 499.4,910.9 500.8,910.1 502.3,906.2 503.7,900.1 505.2,892.2 506.6,883.6 508.1,874.8 509.5,868.0 511.0,863.7 512.4,862.0 513.9,863.1 515.3,867.3 516.8,872.9 518.2,878.7 519.7,883.4 521.1,885.6 522.6,884.5 524.0,880.6 525.5,875.8 526.9,870.8 528.4,866.6 529.8,863.6 531.3,861.9 532.7,859.8 534.2,857.5 535.6,855.4 537.1,854.8 538.5,855.1 540.0,856.1 541.4,859.1 542.9,862.1 544.3,863.0 545.8,863.0 547.2,863.2 548.7,861.1 550.1,858.3 551.6,857.2 553.0,856.7 554.5,856.2 555.9,856.4 557.4,857.6 558.8,858.5 560.3,859.6 561.7,861.2 563.2,864.5 564.6,869.7 566.1,877.2 567.5,886.8 569.0,898.1 570.4,907.8 571.9,915.1 573.3,919.6 574.8,921.2 576.2,920.4 577.7,919.3 579.1,918.3 580.6,917.5 582.0,916.8 583.5,915.8 584.9,914.0 586.4,912.2 587.8,910.4 589.3,908.6 590.7,906.7 592.2,904.6 593.6,901.4 595.1,897.6 596.5,893.8 598.0,891.2 599.4,891.1 600.9,894.4 602.4,899.6 603.8,905.7 605.3,910.4 606.7,913.5 608.2,913.0 609.6,909.2 611.1,903.0 612.5,895.0 614.0,885.8 615.4,876.9 616.9,869.1 618.3,863.0 619.8,858.4 621.2,855.0 622.7,852.8 624.1,852.6 625.6,855.6 627.0,861.4 628.5,869.9 629.9,880.2 631.4,889.6 632.8,894.9 634.3,896.3 635.7,893.7 637.2,888.9 638.6,883.7 640.1,880.0 641.5,877.4 643.0,876.1 644.4,874.0 645.9,870.6 647.3,866.2 648.8,862.0 650.2,858.3 651.7,856.0 653.1,855.5 654.6,855.7 656.0,856.8 657.5,859.4 658.9,865.6 660.4,873.4 661.8,882.8 663.3,893.0 664.7,900.8 666.2,903.9 667.6,904.5 669.1,903.5 670.5,901.2 672.0,900.1 673.4,900.5 674.9,901.6 676.3,903.0 677.8,904.6 679.2,905.4 680.7,905.1 682.1,903.7 683.6,900.4 685.0,894.9 686.5,886.8 687.9,877.8 689.4,869.3 690.8,863.0 692.3,859.5 693.7,859.7 695.2,862.3 696.6,866.2 698.1,870.5 699.5,875.9 701.0,882.2 702.4,889.4 703.9,897.4 705.3,905.0 706.8,911.4 708.2,915.8 709.7,918.2 711.1,919.2 712.6,919.8 714.0,920.1 715.5,920.6 716.9,920.9 718.4,918.7 719.8,913.1 721.3,904.0 722.7,892.4 724.2,880.2 725.6,870.1 727.1,863.2 728.5,858.8 730.0,856.4 731.4,854.6 732.9,853.1 734.3,852.4 735.8,853.8 737.2,856.1 738.7,859.3 740.1,862.7 741.6,865.8 743.0,867.5 744.5,868.1 745.9,867.6 747.4,868.4 748.8,870.8 750.3,874.5 751.7,878.9 753.2,884.2 754.6,887.7 756.1,888.9 757.5,888.9 759.0,889.0 760.4,889.7 761.9,892.7 763.3,897.2 764.8,902.2 766.2,906.1 767.7,907.8 769.1,905.1 770.6,898.7 772.0,889.6 773.5,880.2 774.9,872.6 776.4,868.3 777.8,867.6 779.3,871.6 780.7,878.7 782.2,886.3 783.6,894.1 785.1,901.5 786.5,906.7 788.0,910.0 789.4,912.8 790.9,915.2 792.3,916.3 793.8,916.6 795.2,915.2 796.7,911.5 798.1,906.0 799.6,899.5 801.0,892.9 802.5,886.9 803.9,882.0 805.4,878.1 806.8,875.0 808.3,874.4 809.7,876.6 811.2,881.0 812.6,886.7 814.1,893.3 815.5,899.0 817.0,901.0 818.4,899.5 819.9,895.9 821.3,890.8 822.8,884.3 824.2,879.4 825.7,876.3 827.1,874.5 828.6,873.9 830.0,874.5 831.5,874.8 832.9,874.6 834.4,874.5 835.8,876.8 837.3,881.8 838.7,889.4 840.2,899.0 841.6,908.6 843.1,915.0 844.5,917.9 846.0,918.5 847.4,917.3 848.9,915.6 850.3,914.3 851.8,913.1 853.2,912.3 854.7,911.5 856.1,910.5 857.6,909.4 859.0,908.7 860.5,907.3 861.9,905.4 863.4,902.8 864.8,899.5 866.3,895.0 867.7,890.5 869.2,886.9 870.6,885.0 872.1,885.9 873.5,889.3 875.0,895.0 876.4,900.0 877.9,903.5 879.3,904.4 880.8,902.8 882.2,898.7 883.7,896.1 885.1,895.3 886.6,896.3 888.0,899.1 889.5,903.7 890.9,908.1 892.4,911.6 893.8,913.2 895.3,912.6 896.7,909.7 898.2,904.9 899.6,898.8 901.1,892.1 902.5,885.5 904.0,878.8 905.4,872.2 906.9,866.2 908.3,861.2 909.8,858.2 911.2,857.8 912.7,859.8 914.1,862.5 915.6,865.9 917.0,868.6 918.5,869.7 919.9,869.1 921.4,868.1 922.8,867.3 924.3,867.6 925.7,869.4 927.2,872.4 928.6,875.5 930.1,878.1 931.5,879.3 933.0,878.2 934.4,875.4 935.9,872.3 937.3,869.2 938.8,866.6 940.2,865.6 941.7,866.7 943.1,869.5 944.6,874.0 946.0,879.0 947.5,881.9 948.9,882.2 950.4,880.9 951.8,877.9 953.3,874.9 954.7,875.4 956.2,879.6 957.6,884.8 959.1,890.4 960.5,895.1 962.0,897.8 963.4,897.3 964.9,896.1 966.3,895.8 967.8,897.0 969.2,899.9 970.7,905.2 972.1,911.7 973.6,916.9 975.0,920.6 976.5,922.6 977.9,923.2 979.4,922.3 980.8,921.1 982.3,920.0 983.7,918.8 985.2,917.3 986.6,915.8 988.1,914.7 989.5,913.6 991.0,912.2 992.4,910.5 993.9,910.0 995.3,909.1 996.8,908.1 998.2,907.4 999.7,907.0 1001.1,904.0 1002.6,899.3 1004.0,893.0 1005.5,886.7 1006.9,880.9 1008.4,877.9 1009.8,878.2 1011.3,881.9 1012.7,887.6 1014.2,893.2 1015.6,896.8 1017.1,898.4 1018.5,897.8 1020.0,895.2 1021.4,892.6 1022.9,892.4 1024.3,894.1 1025.8,897.5 1027.2,902.0 1028.7,907.5 1030.1,912.0 1031.6,916.0 1033.0,919.0 1034.5,920.8 1035.9,921.3 1037.4,920.6 1038.8,918.8 1040.3,916.3 1041.7,912.5 1043.2,907.0 1044.6,899.9 1046.1,892.9 1047.5,887.3 1049.0,884.0 1050.4,883.2 1051.9,884.3 1053.3,884.4 1054.8,881.7 1056.2,876.2 1057.7,869.4 1059.1,862.2 1060.6,856.7 1062.0,853.7 1063.5,853.1 1064.9,853.5 1066.4,855.1 1067.8,857.3 1069.3,859.3 1070.7,862.2 1072.2,866.3 1073.6,870.7 1075.1,874.7 1076.5,877.4 1078.0,877.3 1079.4,874.4 1080.9,869.8 1082.3,864.3 1083.8,860.3 1085.2,858.5 1086.7,858.7 1088.1,860.1 1089.6,862.8 1091.0,865.7 1092.5,868.4 1093.9,871.0 1095.4,872.8 1096.8,875.0 1098.3,877.2 1099.7,878.7 1101.2,879.2 1102.6,881.5 1104.1,883.8 1105.5,886.2 1107.0,889.7 1108.4,894.1 1109.9,896.8 1111.3,894.5 1112.8,888.5 1114.2,880.1 1115.7,871.0 1117.1,862.4 1118.6,859.9 1120.0,862.4 1121.5,868.7 1122.9,877.6 1124.4,888.4 1125.8,897.4 1127.3,904.3 1128.7,908.0 1130.2,908.3 1131.6,904.7 1133.1,898.9 1134.5,891.7 1136.0,885.2 1137.4,879.9 1138.9,876.9 1140.3,877.8 1141.8,883.0 1143.2,890.4 1144.7,898.1 1146.1,904.8 1147.6,907.8 1149.0,906.8 1150.5,902.6 1151.9,896.5 1153.4,889.9 1154.8,883.7 1156.3,877.9 1157.7,872.5 1159.2,867.7 1160.6,863.7 1162.1,859.3 1163.5,855.7 1165.0,853.1 1166.4,851.0 1167.9,849.0 1169.3,848.9 1170.8,848.9 1172.2,848.9 1173.7,850.4 1175.1,852.6 1176.6,855.1 1178.0,857.7 1179.5,860.5 1180.9,862.1 1182.4,863.0 1183.8,863.1 1185.3,862.5 1186.7,861.2 1188.2,859.4 1189.6,857.5 1191.1,856.3 1192.5,855.9 1194.0,856.5 1195.4,858.1 1196.9,861.2 1198.3,865.4 1199.8,870.6 1201.2,876.7 1202.7,883.9 1204.1,891.5 1205.6,898.3 1207.0,903.8 1208.5,906.8 1209.9,906.9 1211.4,903.8 1212.8,899.2 1214.3,893.6 1215.7,888.4 1217.2,884.0 1218.6,881.6 1220.1,881.7 1221.5,884.4 1223.0,889.0 1224.4,894.9 1225.9,900.9 1227.3,906.2 1228.8,910.6 1230.2,914.6 1231.7,918.3 1233.1,921.2 1234.6,923.1 1236.0,924.0 1237.5,923.2 1238.9,920.7 1240.4,917.6 1241.8,913.4 1243.3,907.4 1244.7,901.2 1246.2,895.1 1247.6,890.4 1249.1,888.1 1250.5,888.6 1252.0,890.8 1253.4,894.8 1254.9,897.4 1256.3,898.1 1257.8,897.5 1259.2,897.1 1260.7,897.1 1262.1,898.0 1263.6,898.9 1265.0,899.8 1266.5,899.0 1267.9,893.3 1269.4,884.5 1270.8,875.8 1272.3,867.3 1273.7,859.0 1275.2,854.1 1276.6,852.3 1278.1,850.9 1279.5,849.9 1281.0,849.3 1282.4,849.7 1283.9,852.5 1285.3,855.8 1286.8,859.6 1288.2,864.5 1289.7,869.7 1291.1,873.3 1292.6,877.6 1294.0,883.7 1295.5,889.7 1296.9,894.6 1298.4,897.1 1299.8,897.6 1301.3,895.1 1302.7,891.3 1304.2,887.4 1305.6,885.4 1307.1,886.2 1308.5,888.9 1310.0,892.7 1311.4,897.6 1312.9,902.8 1314.3,906.0 1315.8,907.6 1317.2,909.2 1318.7,910.9 1320.1,912.0 1321.6,912.6 1323.0,912.6 1324.5,911.0 1325.9,907.6 1327.4,903.0 1328.8,898.4 1330.3,893.9 1331.7,889.5 1333.2,885.5 1334.6,882.1 1336.1,879.3 1337.5,877.7 1339.0,878.6 1340.4,882.8 1341.9,889.8 1343.3,897.5 1344.8,904.6 1346.2,909.3 1347.7,910.9 1349.1,909.9 1350.6,908.1 1352.0,907.3 1353.5,908.4 1354.9,910.4 1356.4,911.6 1357.8,912.2 1359.3,911.0 1360.7,907.6 1362.2,902.9 1363.6,898.2 1365.1,893.5 1366.5,888.6 1368.0,883.4 1369.4,878.4 1370.9,873.9 1372.3,869.7 1373.8,865.7 1375.2,862.8 1376.7,861.1 1378.1,860.9 1379.6,863.9 1381.0,870.6 1382.5,880.5 1383.9,891.6 1385.4,901.6 1386.8,908.0 1388.3,910.7 1389.7,908.8 1391.2,903.9 1392.6,897.5 1394.1,890.7 1395.5,882.7 1397.0,874.3 1398.4,866.7 1399.9,860.0 1401.3,855.2 1402.8,853.7 1404.2,855.9 1405.7,860.2 1407.1,866.2 1408.6,871.5 1410.0,875.1 1411.5,876.6 1412.9,875.4 1414.4,871.8 1415.8,868.0 1417.3,864.5 1418.7,862.6 1420.2,864.1 1421.6,869.2 1423.1,877.0 1424.5,886.3 1426.0,894.3 1427.4,898.8 1428.9,898.6 1430.3,894.1 1431.8,886.9 1433.2,879.2 1434.7,872.0 1436.1,867.6 1437.6,866.4 1439.0,867.9 1440.5,871.1 1441.9,875.9 1443.4,881.3 1444.8,885.9 1446.3,887.4 1447.7,887.2 1449.2,885.8 1450.6,882.9 1452.1,878.8 1453.5,877.7 1455.0,878.2 1456.4,880.6 1457.9,885.5 1459.3,889.0 1460.8,889.2 1462.2,887.3 1463.7,883.1 1465.1,875.2 1466.6,868.4 1468.0,864.6 1469.5,863.3 1470.9,863.7 1472.4,866.6 1473.8,870.7 1475.3,874.0 1476.7,875.6 1478.2,875.9 1479.6,874.7 1481.1,872.7 1482.5,869.6 1484.0,865.9 1485.4,862.5 1486.9,859.4 1488.3,856.5 1489.8,853.7 1491.2,852.1 1492.7,851.0 1494.1,849.7 1495.6,849.3 1497.0,850.3 1498.5,852.6 1499.9,855.4 1501.4,859.2 1502.8,863.2 1504.3,866.9 1505.7,868.9 1507.2,871.9 1508.6,876.9 1510.1,883.1 1511.5,889.9 1513.0,897.0 1514.4,901.9 1515.9,903.7 1517.3,902.9 1518.8,899.8 1520.2,895.4 1521.7,890.3 1523.1,885.4 1524.6,882.0 1526.0,881.6 1527.5,883.8 1528.9,888.6 1530.4,895.3 1531.8,899.8 1533.3,900.6 1534.7,898.4 1536.2,893.1 1537.6,885.8 1539.1,879.9 1540.5,877.3 1542.0,878.6 1543.4,883.7 1544.9,891.5 1546.3,900.0 1547.8,906.6 1549.2,910.5 1550.7,911.3 1552.1,909.2 1553.6,906.2 1555.0,903.5 1556.5,901.6 1557.9,900.8 1559.4,901.0 1560.8,901.6 1562.3,902.0 1563.7,901.8 1565.2,900.6 1566.6,897.9 1568.1,894.0 1569.5,889.7 1571.0,884.8 1572.4,881.5 1573.9,881.5 1575.3,885.2 1576.8,891.1 1578.2,898.6 1579.7,906.0 1581.1,911.5 1582.6,914.4 1584.0,916.1 1585.5,917.3 1586.9,917.4 1588.4,916.9 1589.8,916.1 1591.3,914.9 1592.7,913.3 1594.2,912.5 1595.6,913.1 1597.1,914.5 1598.5,916.4 1600.0,917.4 1601.4,916.9 1602.9,913.5 1604.3,907.7 1605.8,899.9 1607.2,890.2 1608.7,879.4 1610.1,870.0 1611.6,862.7 1613.0,858.9 1614.5,860.1 1615.9,865.8 1617.4,874.0 1618.8,883.6 1620.3,892.8 1621.7,900.2 1623.2,905.8 1624.6,910.0 1626.1,912.1 1627.5,912.5 1629.0,912.0 1630.4,910.5 1631.9,907.7 1633.3,904.4 1634.8,901.2 1636.2,897.2 1637.7,892.2 1639.1,886.6 1640.6,880.4 1642.0,873.3 1643.5,868.1 1644.9,866.1 1646.4,867.9 1647.8,872.9 1649.3,880.5 1650.7,889.4 1652.2,898.5 1653.6,905.8 1655.1,909.2 1656.5,907.5 1658.0,901.7 1659.4,891.7 1660.9,880.1 1662.3,870.4 1663.8,865.0 1665.2,863.3 1666.7,865.3 1668.1,869.5 1669.6,874.8 1671.0,880.3 1672.5,885.4 1673.9,888.6 1675.4,889.1 1676.8,887.6 1678.3,884.5 1679.7,879.9 1681.2,875.6 1682.6,873.7 1684.1,874.5 1685.5,878.3 1687.0,880.7 1688.4,881.7 1689.9,880.7 1691.3,877.6 1692.8,871.8 1694.2,867.5 1695.7,865.5 1697.1,865.6 1698.6,867.1 1700.0,870.0 1701.5,874.5 1702.9,879.7 1704.4,884.8 1705.8,889.8 1707.3,893.4 1708.7,894.8 1710.2,894.1 1711.6,892.5 1713.1,889.4 1714.5,885.2 1716.0,881.9 1717.4,879.2 1718.9,875.4 1720.3,871.4 1721.8,868.5 1723.2,865.1 1724.7,860.7 1726.1,857.0 1727.6,854.7 1729.0,853.4 1730.5,853.3 1731.9,854.7 1733.4,856.7 1734.8,858.8 1736.3,860.9 1737.7,863.2 1739.2,866.0 1740.6,869.2 1742.1,872.5 1743.5,875.9 1745.0,879.8 1746.4,884.2 1747.9,889.6 1749.3,896.0 1750.8,902.5 1752.2,905.7 1753.7,904.4 1755.1,899.7 1756.6,891.6 1758.0,880.6 1759.5,870.9 1760.9,865.6 1762.4,864.0 1763.8,866.5 1765.3,872.8 1766.7,881.2 1768.2,889.3 1769.6,895.2 1771.1,899.8 1772.5,903.2 1774.0,905.4 1775.4,907.6 1776.9,911.3 1778.3,914.5 1779.8,917.4 1781.2,919.8 1782.7,921.6 1784.1,921.7 1785.6,920.6 1787.0,918.8 1788.5,916.4 1789.9,913.4 1791.4,908.3 1792.8,900.8 1794.3,894.3 1795.7,889.7 1797.2,886.6 1798.6,887.2 1800.1,891.7 1801.5,897.1" stroke="#ff0000"/>
</g>
<g shape-rendering="crispEdges">
<rect x="8" y="860" width="20" height="13" fill="#fff"/><rect x="8" y="876" width="21" height="12" fill="#fff"/>
<rect x="5.5" y="844.5" width="47" height="14" fill="#fff" stroke="#000"/>
<rect x="55.5" y="845.5" width="12" height="12" fill="#fff" stroke="#000"/>
<path d="M57 851.5H66M61.5 847V856" stroke="#000" stroke-width="2" fill="none"/>
</g>
<text x="8" y="855.7" fill="#000">Sto(9/5)</text>
<text x="8" y="870.6" fill="#000">%K</text>
<text x="8" y="886" fill="#ff0000">%D</text>
<text x="1843.4" y="53.7" fill="#000" style="letter-spacing:0.14px">42.5000</text>
<text x="1843.4" y="104.7" fill="#000" style="letter-spacing:0.14px">40.0000</text>
<text x="1843.4" y="154.7" fill="#000" style="letter-spacing:0.14px">37.5000</text>
<text x="1843.4" y="204.7" fill="#000" style="letter-spacing:0.14px">35.0000</text>
<text x="1843.4" y="254.7" fill="#000" style="letter-spacing:0.14px">32.5000</text>
<text x="1843.4" y="304.7" fill="#000" style="letter-spacing:0.14px">30.0000</text>
<text x="1843.4" y="355.7" fill="#000" style="letter-spacing:0.14px">27.5000</text>
<text x="1843.4" y="405.7" fill="#000" style="letter-spacing:0.14px">25.0000</text>
<text x="1843.4" y="455.7" fill="#000" style="letter-spacing:0.14px">22.5000</text>
<text x="1843.4" y="505.7" fill="#000" style="letter-spacing:0.14px">20.0000</text>
<text x="1843.4" y="556.7" fill="#000" style="letter-spacing:0.14px">17.5000</text>
<text x="1843.4" y="606.7" fill="#000" style="letter-spacing:0.14px">15.0000</text>
<text x="1843.4" y="656.7" fill="#000" style="letter-spacing:0.14px">12.5000</text>
<text x="1843.4" y="706.7" fill="#000" style="letter-spacing:0.14px">10.0000</text>
<text x="1843.4" y="756.7" fill="#000" style="letter-spacing:0.14px">7.5000</text>
<text x="1843.4" y="807.7" fill="#000" style="letter-spacing:0.14px">5.0000</text>
<g shape-rendering="crispEdges"><path d="M2 717.5H1837" stroke="#0000ff" stroke-dasharray="3 3" fill="none"/>
<rect x="1838" y="710" width="1877" height="14" fill="#0000ff"/><path d="M1838 717.5H1841" stroke="#fff"/></g>
<text x="1843.4" y="721.7" fill="#fff">9.2856</text>
<text x="1843.4" y="868.7" fill="#000">75.0000</text>
<text x="1843.4" y="889.7" fill="#000">50.0000</text>
<g shape-rendering="crispEdges"><rect x="1838" y="887" width="77" height="14" fill="#ff0000"/><rect x="1838" y="902" width="77" height="14" fill="#000"/><path d="M1838 894.5H1841M1838 909.5H1841" stroke="#fff"/></g>
<text x="1843.4" y="898.7" fill="#fff">39.1872</text>
<text x="1843.4" y="913.7" fill="#fff">21.5054</text>
<text x="11.3" y="945" fill="#000">19.09.25</text>
<text x="114.2" y="945" text-anchor="end" fill="#000">07</text>
<text x="117.2" y="945" fill="#000">21</text>
<text x="183.2" y="945" text-anchor="end" fill="#000">09</text>
<text x="186.2" y="945" fill="#000">21</text>
<text x="251.2" y="945" text-anchor="end" fill="#000">11</text>
<text x="254.2" y="945" fill="#000">21</text>
<text x="318.2" y="945" text-anchor="end" fill="#000">01</text>
<text x="321.2" y="945" fill="#000">22</text>
<text x="384.2" y="945" text-anchor="end" fill="#000">03</text>
<text x="387.2" y="945" fill="#000">22</text>
<text x="449.2" y="945" text-anchor="end" fill="#000">05</text>
<text x="452.2" y="945" fill="#000">22</text>
<text x="515.2" y="945" text-anchor="end" fill="#000">07</text>
<text x="518.2" y="945" fill="#000">22</text>
<text x="583.2" y="945" text-anchor="end" fill="#000">09</text>
<text x="586.2" y="945" fill="#000">22</text>
<text x="650.2" y="945" text-anchor="end" fill="#000">11</text>
<text x="653.2" y="945" fill="#000">22</text>
<text x="718.2" y="945" text-anchor="end" fill="#000">01</text>
<text x="721.2" y="945" fill="#000">23</text>
<text x="782.2" y="945" text-anchor="end" fill="#000">03</text>
<text x="785.2" y="945" fill="#000">23</text>
<text x="847.2" y="945" text-anchor="end" fill="#000">05</text>
<text x="850.2" y="945" fill="#000">23</text>
<text x="917.2" y="945" text-anchor="end" fill="#000">07</text>
<text x="920.2" y="945" fill="#000">23</text>
<text x="985.2" y="945" text-anchor="end" fill="#000">09</text>
<text x="988.2" y="945" fill="#000">23</text>
<text x="1053.2" y="945" text-anchor="end" fill="#000">11</text>
<text x="1056.2" y="945" fill="#000">23</text>
<text x="1117.2" y="945" text-anchor="end" fill="#000">01</text>
<text x="1120.2" y="945" fill="#000">24</text>
<text x="1185.2" y="945" text-anchor="end" fill="#000">03</text>
<text x="1188.2" y="945" fill="#000">24</text>
<text x="1249.2" y="945" text-anchor="end" fill="#000">05</text>
<text x="1252.2" y="945" fill="#000">24</text>
<text x="1315.2" y="945" text-anchor="end" fill="#000">07</text>
<text x="1318.2" y="945" fill="#000">24</text>
<text x="1386.2" y="945" text-anchor="end" fill="#000">09</text>
<text x="1389.2" y="945" fill="#000">24</text>
<text x="1455.2" y="945" text-anchor="end" fill="#000">11</text>
<text x="1458.2" y="945" fill="#000">24</text>
<text x="1518.2" y="945" text-anchor="end" fill="#000">01</text>
<text x="1521.2" y="945" fill="#000">25</text>
<text x="1584.2" y="945" text-anchor="end" fill="#000">03</text>
<text x="1587.2" y="945" fill="#000">25</text>
<text x="1649.2" y="945" text-anchor="end" fill="#000">05</text>
<text x="1652.2" y="945" fill="#000">25</text>
<text x="1712.2" y="945" text-anchor="end" fill="#000">07</text>
<text x="1715.2" y="945" fill="#000">25</text>
<text x="1779.2" y="945" text-anchor="end" fill="#000">09</text>
<text x="1782.2" y="945" fill="#000">25</text>
<text x="1827" y="945" fill="#000">-</text>
<text x="118.3" y="29.4" fill="#000" style="font-size:13.6px;font-weight:bold;letter-spacing:0.12px">UNISWAP USD</text>
<text class="ser" x="322" y="29" fill="#000" style="font-size:13.3px" textLength="1103.5" lengthAdjust="spacingAndGlyphs">Haftungsausschluss für Inhalte: Alle Trendkanäle bzw. andere Linien, oder Grafiken hier sind keine Empfehlungen, oder Beratung, sondern die zeigen lediglich meine eigene Einschätzung. Alle Chartdaten sind ohne Gewähr.  www.wikifolio.com/de/de/p/cyberwaehrungen</text>
<g shape-rendering="crispEdges" fill="none"><rect x="1906.5" y="17.5" width="8" height="8" stroke="#b9b9b9" fill="#fff"/><path d="M1908 21.5H1913" stroke="#b9b9b9"/></g>
<path d="M1797.5 1H1805L1801.2 5Z" fill="#22bb22"/>
<g shape-rendering="crispEdges" fill="none">
<path d="M0 839.5H1915" stroke="#b9b9b9"/>
<path d="M0 932.5H1915" stroke="#b9b9b9"/>
<path d="M1837.5 1V947" stroke="#b9b9b9"/>
<path d="M1822.5 933V947" stroke="#b9b9b9"/>
<path d="M115.5 933V947" stroke="#b9b9b9"/>
<path d="M184.5 933V947" stroke="#b9b9b9"/>
<path d="M252.5 933V947" stroke="#b9b9b9"/>
<path d="M319.5 933V947" stroke="#b9b9b9"/>
<path d="M385.5 933V947" stroke="#b9b9b9"/>
<path d="M450.5 933V947" stroke="#b9b9b9"/>
<path d="M516.5 933V947" stroke="#b9b9b9"/>
<path d="M584.5 933V947" stroke="#b9b9b9"/>
<path d="M651.5 933V947" stroke="#b9b9b9"/>
<path d="M719.5 933V947" stroke="#b9b9b9"/>
<path d="M783.5 933V947" stroke="#b9b9b9"/>
<path d="M848.5 933V947" stroke="#b9b9b9"/>
<path d="M918.5 933V947" stroke="#b9b9b9"/>
<path d="M986.5 933V947" stroke="#b9b9b9"/>
<path d="M1054.5 933V947" stroke="#b9b9b9"/>
<path d="M1118.5 933V947" stroke="#b9b9b9"/>
<path d="M1186.5 933V947" stroke="#b9b9b9"/>
<path d="M1250.5 933V947" stroke="#b9b9b9"/>
<path d="M1316.5 933V947" stroke="#b9b9b9"/>
<path d="M1387.5 933V947" stroke="#b9b9b9"/>
<path d="M1456.5 933V947" stroke="#b9b9b9"/>
<path d="M1519.5 933V947" stroke="#b9b9b9"/>
<path d="M1585.5 933V947" stroke="#b9b9b9"/>
<path d="M1650.5 933V947" stroke="#b9b9b9"/>
<path d="M1713.5 933V947" stroke="#b9b9b9"/>
<path d="M1780.5 933V947" stroke="#b9b9b9"/>
<rect x="0.5" y="0.5" width="1915" height="947" stroke="#000"/>
</g>
</svg>
</body></html>
